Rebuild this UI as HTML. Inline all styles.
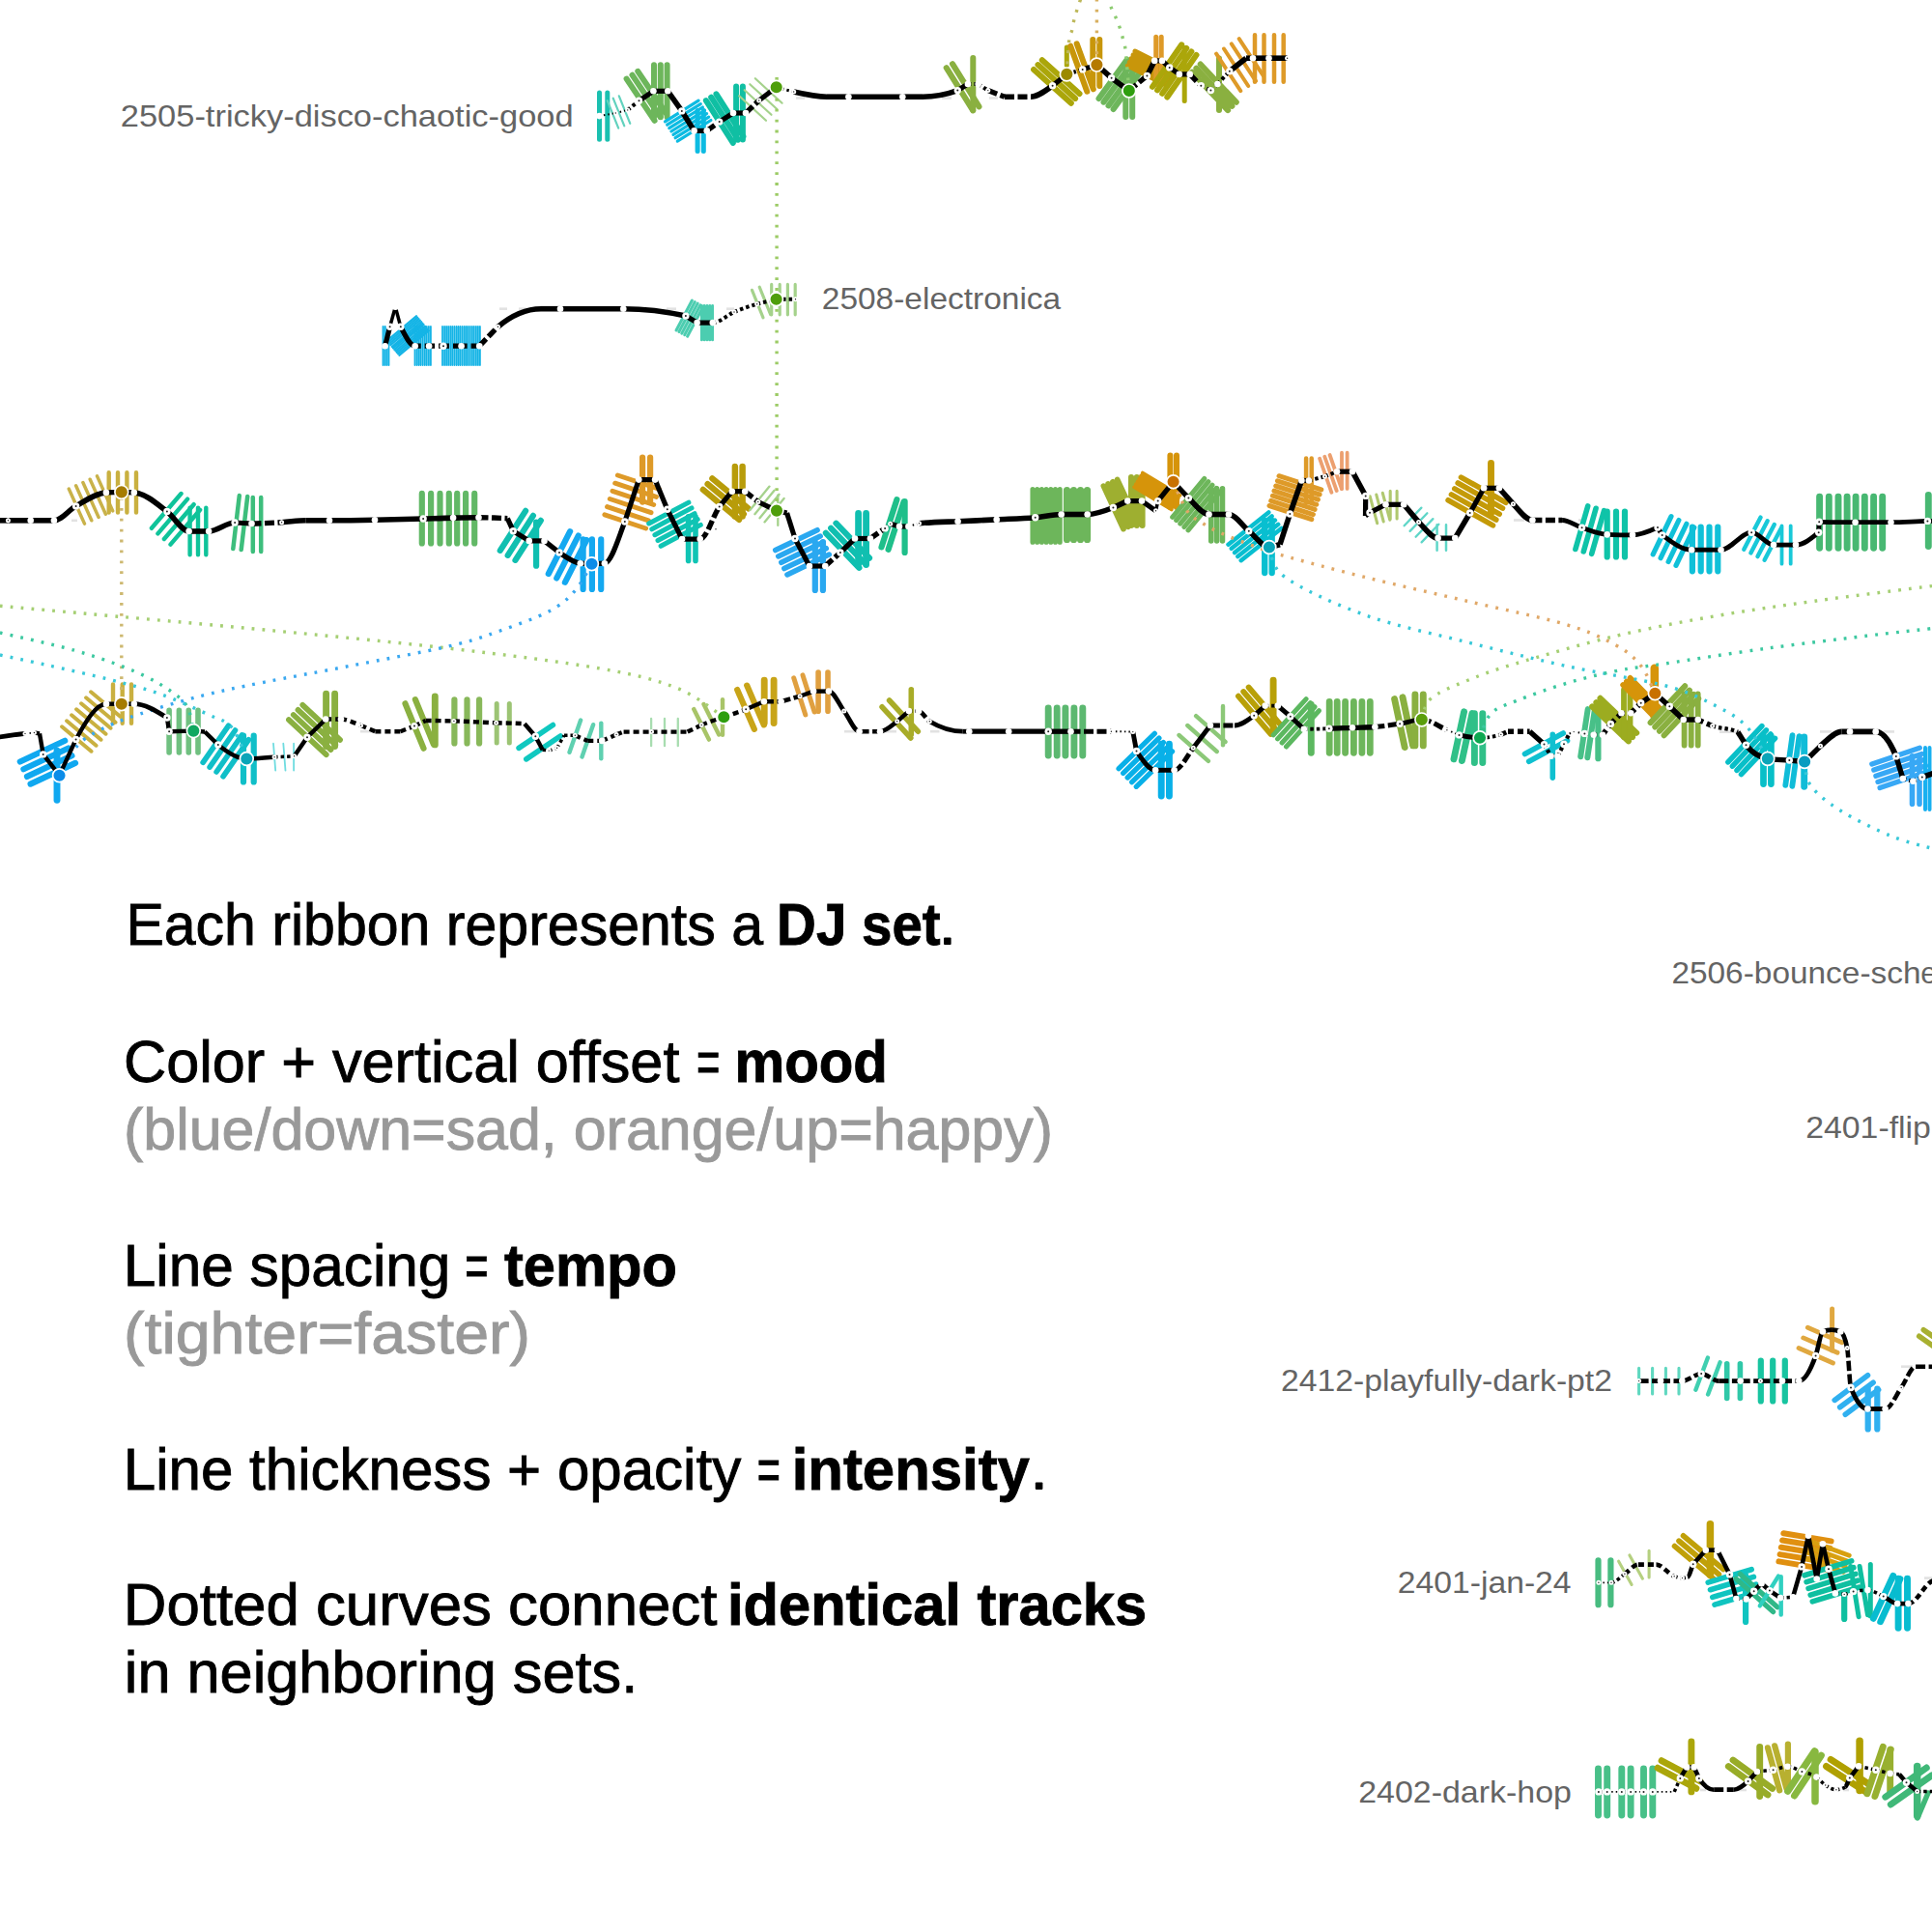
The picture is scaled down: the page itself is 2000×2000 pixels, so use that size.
<!DOCTYPE html><html><head><meta charset="utf-8"><title>DJ set ribbons</title><style>html,body{margin:0;padding:0;background:#fff;overflow:hidden}svg{display:block}text{font-family:"Liberation Sans",sans-serif}</style></head><body>
<svg width="2000" height="2000" viewBox="0 0 2000 2000">
<rect width="2000" height="2000" fill="#fff"/>
<rect x="824" y="100.2" width="9" height="2.6" fill="#e2e2e2"/>
<rect x="975" y="100.2" width="10" height="2.6" fill="#e2e2e2"/>
<rect x="1024" y="100.2" width="9" height="2.6" fill="#e2e2e2"/>
<g fill="none" stroke-linecap="round"><path d="M620.5 95.9L620.5 144.3M628.8 95.9L628.8 144.3" stroke="#1BC0B0" stroke-width="5"/><path d="M628.7 104.2L640.2 132.7M634.7 101.7L646.3 130.3M640.8 99.3L652.3 127.8" stroke="#62D2BE" stroke-width="2.2"/><path d="M648.6 81.6L677.6 124.8M654.5 77.7L683.4 120.9M660.3 73.8L689.3 117" stroke="#6DB65B" stroke-width="6"/><path d="M677 67.3L677 121.3M683.8 67.3L683.8 121.3M690.6 67.3L690.6 121.3" stroke="#6DB65B" stroke-width="6"/><path d="M723.1 104.2L688.5 125.8M725.3 107.6L690.7 129.2M727.4 111L692.8 132.6M729.5 114.3L694.9 136M731.6 117.7L697 139.3M733.7 121.1L699.1 142.7M735.9 124.5L701.3 146.1" stroke="#0CBBE2" stroke-width="3.2"/><path d="M722.1 114.4L722.1 156.4M728.3 114.4L728.3 156.4" stroke="#0CBBE2" stroke-width="5"/><path d="M730.9 104.1L758.8 147.9M736.2 100.7L764.1 144.6M741.5 97.3L769.4 141.2" stroke="#10BFA3" stroke-width="6"/><path d="M762.1 89.5L762.1 144.5M768.9 89.5L768.9 144.5" stroke="#10BFA3" stroke-width="6"/><path d="M765.2 99.3L793 124.8M770.7 93.2L798.5 118.8M776.3 87.2L804.1 112.8M781.8 81.2L809.6 106.7" stroke="#A5D28C" stroke-width="2.2"/><path d="M979.7 70.2L1007.2 114.4M986 66.2L1013.5 110.4" stroke="#8AB040" stroke-width="6"/><path d="M1007.3 60L1007.3 114" stroke="#8AB040" stroke-width="6"/><path d="M1070.1 71.9L1108.8 106.7M1074.5 67.1L1113.1 101.9M1078.8 62.3L1117.5 97.1" stroke="#ABA60A" stroke-width="6"/><path d="M1104.3 49.1L1104.3 67.5" stroke="#ABA60A" stroke-width="5"/><path d="M1108.2 47.7L1125.3 94.7M1114.7 45.3L1131.8 92.3" stroke="#C8960A" stroke-width="6"/><path d="M1131.3 41L1131.3 89M1138.3 41L1138.3 89" stroke="#C8960A" stroke-width="6"/><path d="M1166.8 61.6L1137.5 102.1M1171.9 65.2L1142.5 105.7M1176.9 68.9L1147.5 109.4M1181.9 72.5L1152.6 113" stroke="#6DB65B" stroke-width="6"/><path d="M1165.3 67L1165.3 121M1172.2 67L1172.2 121" stroke="#6DB65B" stroke-width="6"/><path d="M1167.4 68L1207.6 88.3M1169.3 64.3L1209.5 84.5M1171.2 60.5L1211.4 80.8M1173.1 56.8L1213.3 77M1175 53L1215.2 73.3" stroke="#C8960A" stroke-width="5"/><path d="M1196.7 38.2L1196.7 87.5M1202.2 38.2L1202.2 87.5" stroke="#DE9A28" stroke-width="5"/><path d="M1223.2 46.3L1193 89.9M1228.3 49.9L1198.1 93.4M1233.4 53.4L1203.2 96.9M1238.5 56.9L1208.3 100.5" stroke="#ABA60A" stroke-width="6"/><path d="M1226.2 49.4L1226.2 104.4" stroke="#ABA60A" stroke-width="5"/><path d="M1234 74.8L1271.1 114.1M1238.4 70.7L1275.4 109.9M1242.7 66.5L1279.8 105.8" stroke="#8AB040" stroke-width="6"/><path d="M1262 60.5L1262 114" stroke="#8AB040" stroke-width="6"/><path d="M1259.1 55.7L1284.3 94.2M1267 50.5L1292.2 89M1274.8 45.4L1300 83.9M1282.7 40.2L1307.9 78.7" stroke="#DE9A28" stroke-width="4"/><path d="M1299 36.2L1299 84.8M1308.5 36.2L1308.5 84.8M1319 36.2L1319 84.8M1328.7 36.2L1328.7 84.8" stroke="#DE9A28" stroke-width="4.5"/></g>
<rect x="517" y="318.4" width="8" height="2.6" fill="#e2e2e2"/>
<rect x="537" y="318.4" width="8" height="2.6" fill="#e2e2e2"/>
<rect x="690" y="318.4" width="10" height="2.6" fill="#e2e2e2"/>
<rect x="752" y="318.4" width="8" height="2.6" fill="#e2e2e2"/>
<g fill="none" stroke-linecap="round"><path d="M396.5 337.9L396.5 378.1M398.5 337.9L398.5 378.1M400.5 337.9L400.5 378.1M402.5 337.9L402.5 378.1" stroke="#14B4E6" stroke-width="1.8"/><path d="M431.1 327L400.4 352.7M432.4 328.5L401.7 354.3M433.7 330L403 355.8M435 331.5L404.3 357.3M436.3 333.1L405.6 358.9M437.6 334.6L406.8 360.4M438.8 336.1L408.1 361.9M440.1 337.7L409.4 363.5M441.4 339.2L410.7 365M442.7 340.7L412 366.5M444 342.3L413.3 368" stroke="#14B4E6" stroke-width="1.9"/><path d="M429.5 337.9L429.5 378.1M431.6 337.9L431.6 378.1M433.6 337.9L433.6 378.1M435.6 337.9L435.6 378.1M437.7 337.9L437.7 378.1M439.8 337.9L439.8 378.1M441.8 337.9L441.8 378.1M443.9 337.9L443.9 378.1M445.9 337.9L445.9 378.1" stroke="#14B4E6" stroke-width="1.8"/><path d="M458 337.9L458 378.1M460.1 337.9L460.1 378.1M462.1 337.9L462.1 378.1M464.1 337.9L464.1 378.1M466.2 337.9L466.2 378.1M468.2 337.9L468.2 378.1M470.3 337.9L470.3 378.1M472.4 337.9L472.4 378.1M474.4 337.9L474.4 378.1M476.4 337.9L476.4 378.1M478.5 337.9L478.5 378.1M480.6 337.9L480.6 378.1M482.6 337.9L482.6 378.1M484.6 337.9L484.6 378.1M486.7 337.9L486.7 378.1M488.8 337.9L488.8 378.1M490.8 337.9L490.8 378.1M492.9 337.9L492.9 378.1M494.9 337.9L494.9 378.1M496.9 337.9L496.9 378.1" stroke="#14B4E6" stroke-width="1.8"/><path d="M716.4 311L700 342M719.3 312.6L702.9 343.5M722.2 314.1L705.8 345.1M725.1 315.7L708.7 346.6M728 317.2L711.6 348.2" stroke="#4CCDB0" stroke-width="3"/><path d="M726.4 316.4L726.4 351.9M729.2 316.4L729.2 351.9M732 316.4L732 351.9M734.8 316.4L734.8 351.9M737.6 316.4L737.6 351.9" stroke="#4CCDB0" stroke-width="2.9"/><path d="M778.5 300.3L790 328.8M786.2 297.2L797.7 325.7" stroke="#A5D28C" stroke-width="3.2"/><path d="M798.7 294.4L798.7 325.8M807.2 294.4L807.2 325.8M815.4 294.4L815.4 325.8M823.2 294.4L823.2 325.8" stroke="#A5D28C" stroke-width="3.2"/></g>
<rect x="74" y="537.5" width="6" height="2.6" fill="#e2e2e2"/>
<rect x="1567" y="537.2" width="11" height="2.6" fill="#e2e2e2"/>
<rect x="1634" y="537.2" width="6" height="2.6" fill="#e2e2e2"/>
<g fill="none" stroke-linecap="round"><path d="M71.3 506.1L87.5 542.1M78.6 502.8L94.8 538.8M85.9 499.5L102.1 535.5M93.2 496.2L109.4 532.2M100.5 492.9L116.7 528.9" stroke="#C9B24A" stroke-width="3.5"/><path d="M112.7 489.2L112.7 530.5M122 489.2L122 530.5M131.4 489.2L131.4 530.5M141 489.2L141 530.5" stroke="#C9B040" stroke-width="4.4"/><path d="M187.5 511L156.9 546.8M194.1 516.6L163.4 552.4M200.6 522.2L169.9 558M207.1 527.8L176.5 563.6" stroke="#0FC39A" stroke-width="4.4"/><path d="M196.6 525.6L196.6 574.3M205 525.6L205 574.3M213.3 525.6L213.3 574.3" stroke="#0FC39A" stroke-width="4.4"/><path d="M247.8 513.1L241.3 568M256.2 514L249.7 569M261.8 515L261.8 570.9M270.2 515L270.2 570.9" stroke="#3DBE7C" stroke-width="4.5"/><path d="M436.8 510.9L436.8 562.4M446.1 510.9L446.1 562.4M455.5 510.9L455.5 562.4M464.8 510.9L464.8 562.4M473.2 510.9L473.2 562.4M482.1 510.9L482.1 562.4M491.2 510.9L491.2 562.4" stroke="#62B866" stroke-width="6.2"/><path d="M544.1 528.8L517.8 569.8M551.9 533.8L525.7 574.8M559.8 538.8L533.5 579.8" stroke="#10BFB0" stroke-width="6.2"/><path d="M555.1 540.7L555.1 585.7" stroke="#10BFB0" stroke-width="6.2"/><path d="M590.1 550.2L567.8 594M598.7 554.6L576.3 598.4M607.2 559L584.9 602.8" stroke="#14A8F0" stroke-width="6.2"/><path d="M603.6 558.4L603.6 609.9M612.9 558.4L612.9 609.9M622.2 558.4L622.2 609.9" stroke="#14A8F0" stroke-width="6.2"/><path d="M625.9 532.8L668.6 547M628.6 524.6L671.3 538.8M631.3 516.5L674 530.7M634 508.3L676.7 522.5M636.7 500.2L679.4 514.4M639.4 492L682.1 506.2" stroke="#DE9A28" stroke-width="5"/><path d="M665.1 473.6L665.1 519.6M673.1 473.6L673.1 519.6" stroke="#DE9A28" stroke-width="6.2"/><path d="M712.9 520.1L671.7 542M716 525.9L674.8 547.8M719.1 531.7L677.9 553.7M722.2 537.6L681 559.5M725.3 543.4L684.1 565.3" stroke="#10C4B4" stroke-width="5"/><path d="M712.6 534.8L712.6 580.4M720 534.8L720 580.4" stroke="#10C4B4" stroke-width="5.6"/><path d="M727.8 506.9L765.1 537.9M732.6 501.1L769.9 532.1M737.4 495.3L774.7 526.3" stroke="#B89C0A" stroke-width="6.3"/><path d="M760.9 483.1L760.9 534.4M768.6 483.1L768.6 534.4" stroke="#B89C0A" stroke-width="6.5"/><path d="M796.5 503.6L776.4 528.1M801.5 507.7L781.4 532.2M806.6 511.8L786.5 536.3M811.6 515.9L791.5 540.4" stroke="#A5D28C" stroke-width="2.3"/><path d="M805.3 512.6L805.3 543.9" stroke="#A5D28C" stroke-width="2.3"/><path d="M846.1 548.7L802.7 569.6M849.2 555L805.7 575.9M852.2 561.3L808.8 582.3M855.3 567.7L811.8 588.6M858.3 574L814.9 594.9" stroke="#2AA8F0" stroke-width="5.5"/><path d="M843.8 561.1L843.8 610.9M851.9 561.1L851.9 610.9" stroke="#2AA8F0" stroke-width="6.2"/><path d="M854.9 551.8L889.4 587.8M860.2 546.8L894.7 582.7M865.5 541.7L900 577.7" stroke="#10BFB0" stroke-width="6.2"/><path d="M888.6 531.4L888.6 584.6M896.6 531.4L896.6 584.6" stroke="#10BFB0" stroke-width="6.8"/><path d="M928.4 517.3L912.5 566.4M935.5 519.6L919.6 568.7" stroke="#1FBF8A" stroke-width="6.2"/><path d="M936.6 519.1L936.6 571.9" stroke="#1FBF8A" stroke-width="6.2"/><path d="M1069 506.6L1069 561.2M1073.7 506.6L1073.7 561.2M1078.4 506.6L1078.4 561.2M1083.1 506.6L1083.1 561.2M1087.8 506.6L1087.8 561.2M1092.5 506.6L1092.5 561.2M1097.2 506.6L1097.2 561.2" stroke="#6DB65B" stroke-width="5.1"/><path d="M1104.5 507.6L1104.5 558.4M1111.5 507.6L1111.5 558.4M1118.5 507.6L1118.5 558.4M1125.5 507.6L1125.5 558.4" stroke="#6DB65B" stroke-width="7.2"/><path d="M1142.3 503.1L1163 547.7M1147.1 500.9L1167.8 545.4M1151.9 498.7L1172.6 543.2M1156.7 496.4L1177.4 541" stroke="#9EAF30" stroke-width="5.6"/><path d="M1171 494L1171 544M1176.8 494L1176.8 544M1182.6 494L1182.6 544" stroke="#9EAF30" stroke-width="6"/><path d="M1174.1 504.2L1212.7 527.4M1175.9 501.3L1214.5 524.5M1177.6 498.4L1216.2 521.5M1179.4 495.5L1218 518.6M1181.1 492.5L1219.7 515.7M1182.9 489.6L1221.5 512.8" stroke="#D6940A" stroke-width="3.8"/><path d="M1211.4 471.6L1211.4 525M1218 471.6L1218 525" stroke="#D6940A" stroke-width="6"/><path d="M1246.8 495.4L1213.7 535.3M1250.9 498.7L1217.7 538.7M1255 502.1L1221.8 542.1M1259.1 505.5L1225.9 545.5M1263.1 508.9L1230 548.8" stroke="#6DB65B" stroke-width="5"/><path d="M1253.7 505.8L1253.7 560M1259.6 505.8L1259.6 560M1265.5 505.8L1265.5 560" stroke="#6DB65B" stroke-width="5.5"/><path d="M1313.3 530.4L1271.5 563.7M1316.6 534.5L1274.8 567.8M1319.9 538.6L1278.1 572M1323.2 542.8L1281.4 576.1M1326.5 546.9L1284.7 580.2" stroke="#08BFD0" stroke-width="4.5"/><path d="M1309.2 538.9L1309.2 593.1M1316.7 538.9L1316.7 593.1" stroke="#08BFD0" stroke-width="6.3"/><path d="M1314 523.5L1357.8 537.7M1315.7 518.4L1359.4 532.6M1317.4 513.2L1361.1 527.4M1319 508.1L1362.8 522.3M1320.7 503L1364.4 517.2M1322.4 497.8L1366.1 512M1324 492.7L1367.8 506.9" stroke="#DE9A28" stroke-width="5"/><path d="M1352.1 474.6L1352.1 520.5M1357.7 474.6L1357.7 520.5" stroke="#DE9A28" stroke-width="4.5"/><path d="M1366.1 474.7L1378.4 509.8M1371.3 472.8L1383.7 508M1376.6 471L1388.9 506.1" stroke="#ECA070" stroke-width="3.8"/><path d="M1389 468.7L1389 505.9M1394.6 468.7L1394.6 505.9" stroke="#ECA070" stroke-width="3.8"/><path d="M1418.2 513.8L1425.7 541.7M1424.8 512.1L1432.2 539.9M1431.3 510.3L1438.8 538.2" stroke="#B0C870" stroke-width="3.1"/><path d="M1439.2 508.4L1439.2 536.9M1446.1 508.4L1446.1 536.9" stroke="#B0C870" stroke-width="3.1"/><path d="M1471.4 525.6L1453.6 544.2M1477.4 531.3L1459.6 549.9M1483.4 537.1L1465.6 555.7M1489.4 542.8L1471.6 561.4" stroke="#5FD6C8" stroke-width="2.3"/><path d="M1487.6 543.3L1487.6 569.7M1497 543.3L1497 569.7" stroke="#5FD6C8" stroke-width="2.5"/><path d="M1499.1 517.8L1545.5 543.9M1502.5 511.9L1548.8 538M1505.8 505.9L1552.2 532.1M1509.2 500L1555.5 526.1M1512.5 494.1L1558.9 520.2" stroke="#C49A08" stroke-width="5.6"/><path d="M1543.5 479.4L1543.5 531.4" stroke="#C49A08" stroke-width="6.9"/><path d="M1643.7 523.9L1630.9 568.5M1652.1 526.3L1639.3 570.9M1660.5 528.7L1647.7 573.3" stroke="#0FC3A8" stroke-width="5.6"/><path d="M1663.7 529.5L1663.7 576.4M1673 529.5L1673 576.4M1682 529.5L1682 576.4" stroke="#0FC3A8" stroke-width="6.2"/><path d="M1730 534.7L1711.2 573.9M1737.9 538.5L1719.1 577.7M1745.9 542.3L1727.1 581.5M1753.8 546.1L1735 585.3" stroke="#10C0D8" stroke-width="5.2"/><path d="M1751.9 545.5L1751.9 591.3M1760.7 545.5L1760.7 591.3M1769.5 545.5L1769.5 591.3M1778.3 545.5L1778.3 591.3" stroke="#10C0D8" stroke-width="6.2"/><path d="M1822.6 535.6L1805.3 568.7M1829.7 539.3L1812.4 572.4M1836.8 543L1819.5 576.1M1843.9 546.7L1826.6 579.8" stroke="#18C8D8" stroke-width="4.4"/><path d="M1844.5 544.3L1844.5 583.7M1853.7 544.3L1853.7 583.7" stroke="#18C8D8" stroke-width="3.8"/><path d="M1883.6 514.1L1883.6 567.2M1893.3 514.1L1893.3 567.2M1903 514.1L1903 567.2M1912.1 514.1L1912.1 567.2M1921.1 514.1L1921.1 567.2M1930.3 514.1L1930.3 567.2M1939.6 514.1L1939.6 567.2M1948.7 514.1L1948.7 567.2" stroke="#48B872" stroke-width="6.9"/><path d="M1996.3 512.4L1996.3 565.6M2005.5 512.4L2005.5 565.6" stroke="#48B872" stroke-width="6.9"/></g>
<rect x="373" y="755.9" width="14" height="2.6" fill="#e2e2e2"/>
<rect x="874" y="755.9" width="11" height="2.6" fill="#e2e2e2"/>
<rect x="913" y="755.9" width="15" height="2.6" fill="#e2e2e2"/>
<rect x="963" y="755.9" width="9.5" height="2.6" fill="#e2e2e2"/>
<rect x="1780" y="756.4" width="18" height="2.6" fill="#e2e2e2"/>
<rect x="1884" y="756.1" width="12" height="2.6" fill="#e2e2e2"/>
<rect x="1950" y="756.1" width="11" height="2.6" fill="#e2e2e2"/>
<g fill="none" stroke-linecap="round"><path d="M67.2 766.8L20.8 788.5M70.8 774.5L24.4 796.2M74.4 782.2L28 803.9M78 789.9L31.6 811.6" stroke="#10A8F0" stroke-width="6.2"/><path d="M59 777.1L59 828.3" stroke="#10A8F0" stroke-width="6.9"/><path d="M64.1 752.3L94.5 777.7M69.1 746.3L99.5 771.7M74.1 740.3L104.5 765.7M79.1 734.3L109.5 759.7M84.1 728.3L114.5 753.7M89.1 722.3L119.5 747.7M94.1 716.3L124.5 741.7" stroke="#C9B040" stroke-width="4"/><path d="M117 708.5L117 748.8M126.7 708.5L126.7 748.8M136 708.5L136 748.8" stroke="#C9B040" stroke-width="4.4"/><path d="M175.1 735.2L175.1 779M185.4 735.2L185.4 779M195.3 735.2L195.3 779M205 735.2L205 779" stroke="#70C080" stroke-width="5.6"/><path d="M236.6 751.2L210.1 789.3M243.5 756L217.1 794.1M250.5 760.9L224.1 799M257.5 765.7L231 803.8" stroke="#10BFC8" stroke-width="5.6"/><path d="M252 761.6L252 809.4M262.7 761.6L262.7 809.4" stroke="#10BFC8" stroke-width="6.2"/><path d="M283 769.7L285.2 797.6M293.3 769.7L295.5 797.6M304.1 769.7L304.1 797.6" stroke="#6FDCE0" stroke-width="1.8"/><path d="M299 745.1L337.7 781.2M303.8 740L342.5 776.1M308.5 734.9L347.2 771M313.3 729.8L352 765.9" stroke="#8AB040" stroke-width="5.8"/><path d="M337.6 718.1L337.6 772.6M346.6 718.1L346.6 772.6" stroke="#8AB040" stroke-width="6.9"/><path d="M419.5 728.3L438.5 774.7M429.9 724.1L448.9 770.5" stroke="#8AB040" stroke-width="6.2"/><path d="M450.3 720.9L450.3 770.9" stroke="#8AB040" stroke-width="6.9"/><path d="M470.4 724.3L470.4 769.4M483.5 724.3L483.5 769.4M496.1 724.3L496.1 769.4" stroke="#88B85A" stroke-width="6.2"/><path d="M514.2 728.4L514.2 769M527.3 728.4L527.3 769" stroke="#9CC474" stroke-width="5"/><path d="M572.4 750.5L537.1 774.4M580.1 762L544.8 785.9" stroke="#10C8C0" stroke-width="5.6"/><path d="M601.1 745.6L589.5 778.8M614.1 750.2L602.5 783.4" stroke="#5FD0B0" stroke-width="4.4"/><path d="M622.3 748.6L622.3 785.2" stroke="#5FD0B0" stroke-width="4.4"/><path d="M674.1 743.9L674.1 772.2M688 743.9L688 772.2M701.8 743.9L701.8 772.2" stroke="#A8DDB0" stroke-width="2.3"/><path d="M718.2 734.1L733.9 765.6M728.5 729L744.2 760.5" stroke="#A8C468" stroke-width="4.4"/><path d="M748 724.2L748 760.8" stroke="#A8C468" stroke-width="4.4"/><path d="M763.2 714L780.8 754.8M773.2 709.6L790.8 750.4" stroke="#C8A418" stroke-width="6.2"/><path d="M791.2 704.1L791.2 748.6M801.1 704.1L801.1 748.6" stroke="#C8A418" stroke-width="6.9"/><path d="M821.7 701.8L833.8 739.9M831 698.9L843.1 737" stroke="#E0A040" stroke-width="5"/><path d="M847.1 696.1L847.1 736.2M857 696.1L857 736.2" stroke="#E0A040" stroke-width="5.6"/><path d="M913.1 731.8L942.8 764M920.6 725L950.3 757.2" stroke="#A8AC28" stroke-width="5.6"/><path d="M943.3 713.8L943.3 760.2" stroke="#A8AC28" stroke-width="5.6"/><path d="M1085.2 733L1085.2 782.1M1094.2 733L1094.2 782.1M1102.9 733L1102.9 782.1M1111.9 733L1111.9 782.1M1120.8 733L1120.8 782.1" stroke="#5CB870" stroke-width="6.9"/><path d="M1195.3 759.3L1158.1 795.7M1199.9 764L1162.7 800.3M1204.4 768.6L1167.2 805M1208.9 773.3L1171.7 809.6M1213.5 777.9L1176.3 814.3" stroke="#08B0E8" stroke-width="5.3"/><path d="M1202.2 770.3L1202.2 824M1210.4 770.3L1210.4 824" stroke="#08B0E8" stroke-width="6.9"/><path d="M1220.5 761L1250.9 787.9M1229.3 751L1259.7 778M1238.1 741.1L1268.5 768" stroke="#8CC878" stroke-width="4.4"/><path d="M1266 730.9L1266 771.2" stroke="#8CC878" stroke-width="4.4"/><path d="M1281.9 720.6L1315.4 759.9M1287.2 716L1320.8 755.4M1292.6 711.5L1326.1 750.8" stroke="#B8A008" stroke-width="5.8"/><path d="M1318.1 704.1L1318.1 756" stroke="#B8A008" stroke-width="6.9"/><path d="M1352.1 723.6L1318.2 760.9M1356.5 727.6L1322.6 764.9M1361 731.7L1327.1 769M1365.4 735.7L1331.5 773" stroke="#5CB860" stroke-width="5"/><path d="M1357.3 729.4L1357.3 779.3" stroke="#5CB860" stroke-width="6.9"/><path d="M1376.2 726.4L1376.2 779.3M1384.2 726.4L1384.2 779.3M1392.6 726.4L1392.6 779.3M1401.4 726.4L1401.4 779.3M1409.9 726.4L1409.9 779.3M1418.3 726.4L1418.3 779.3" stroke="#6DB65B" stroke-width="6.8"/><path d="M1443.6 723.6L1454.2 773.6M1452 721.8L1462.6 771.8" stroke="#8AB040" stroke-width="6.9"/><path d="M1464.9 719L1464.9 771.9M1473.3 719L1473.3 771.9" stroke="#8AB040" stroke-width="6.9"/><path d="M1515.6 736.8L1505 785.8M1524 738.6L1513.4 787.6" stroke="#30C088" stroke-width="6.9"/><path d="M1526.4 738.6L1526.4 789.6M1534.8 738.6L1534.8 789.6" stroke="#30C088" stroke-width="6.9"/><path d="M1618.3 759L1578.5 780.5M1622.5 766.7L1582.7 788.2" stroke="#10C0D0" stroke-width="5.6"/><path d="M1607.3 760.4L1607.3 805.1" stroke="#10C0D0" stroke-width="5.6"/><path d="M1643.7 734.1L1636.2 783.2M1650.8 735.2L1643.3 784.3" stroke="#48C088" stroke-width="6"/><path d="M1654.4 740.1L1654.4 785.2" stroke="#48C088" stroke-width="6.2"/><path d="M1648.3 731.5L1685.8 767.3M1652.5 727.2L1689.9 763M1656.6 722.9L1694.1 758.7" stroke="#9CAC20" stroke-width="6.2"/><path d="M1681 713.9L1681 763.1M1687.5 713.9L1687.5 763.1" stroke="#9CAC20" stroke-width="5.8"/><path d="M1680.1 709L1712.5 742.2M1683.8 705.4L1716.2 738.6M1687.5 701.8L1719.9 735" stroke="#D6940A" stroke-width="5.6"/><path d="M1712.8 691.8L1712.8 741.8" stroke="#D6940A" stroke-width="8.5"/><path d="M1744.2 710.2L1708.6 748.1M1748.9 714.6L1713.3 752.5M1753.5 718.9L1717.9 756.8M1758.2 723.3L1722.6 761.2" stroke="#8AB040" stroke-width="6"/><path d="M1743.6 718.4L1743.6 771.5M1750.7 718.4L1750.7 771.5M1757.7 718.4L1757.7 771.5" stroke="#8AB040" stroke-width="5.8"/><path d="M1823.9 751.6L1788.9 788.9M1828.4 755.8L1793.4 793.2M1833 760L1798 797.4M1837.5 764.3L1802.5 801.6" stroke="#08BFC8" stroke-width="5.5"/><path d="M1825.5 762L1825.5 811.6M1833.4 762L1833.4 811.6" stroke="#08BFC8" stroke-width="6.7"/><path d="M1855.5 761.2L1848.3 812.9M1862.5 762.1L1855.3 813.8" stroke="#10BCD8" stroke-width="5.8"/><path d="M1867.7 762.9L1867.7 814.2" stroke="#10BCD8" stroke-width="6.9"/><path d="M1987.3 774.2L1937.8 791M1989.4 780.4L1939.8 797.1M1991.5 786.5L1941.9 803.3M1993.6 792.7L1944 809.4M1995.6 798.8L1946.1 815.6" stroke="#38A8F5" stroke-width="5.3"/><path d="M1979.5 782.8L1979.5 832.2M1987 782.8L1987 832.2" stroke="#38A8F5" stroke-width="5.6"/><path d="M1993 774L1993 838M1997.5 774L1997.5 838M2002 774L2002 838" stroke="#18B0F0" stroke-width="4"/></g>
<rect x="1968" y="1413.4" width="12" height="2.6" fill="#e2e2e2"/>
<g fill="none" stroke-linecap="round"><path d="M1696.6 1416.3L1696.6 1442.9M1710.6 1416.3L1710.6 1442.9M1724.4 1416.3L1724.4 1442.9M1738 1416.3L1738 1442.9" stroke="#60D8C0" stroke-width="3.1"/><path d="M1767.9 1405.5L1755.4 1438.7M1780.6 1410.3L1768.1 1443.5" stroke="#40CFB0" stroke-width="4.4"/><path d="M1787.7 1411.7L1787.7 1447.5M1801.4 1411.7L1801.4 1447.5" stroke="#30C8A8" stroke-width="5.6"/><path d="M1822.8 1408.6L1822.8 1450.5M1835.2 1408.6L1835.2 1450.5M1847.8 1408.6L1847.8 1450.5" stroke="#18C4A0" stroke-width="6.2"/><path d="M1862 1395.5L1897.5 1411M1866.7 1384.9L1902.1 1400.3M1871.3 1374.2L1906.8 1389.7" stroke="#E0A840" stroke-width="4.8"/><path d="M1896.6 1355.1L1896.6 1398.1" stroke="#E0A840" stroke-width="5"/><path d="M1933.5 1423.7L1899.2 1449.4M1939.1 1431.2L1904.7 1456.8M1944.6 1438.6L1910.3 1464.3" stroke="#30B0F0" stroke-width="5.6"/><path d="M1933.7 1437.6L1933.7 1479.5M1943.3 1437.6L1943.3 1479.5" stroke="#30B0F0" stroke-width="6.2"/><path d="M1986.7 1383.3L2006.7 1397.3M1991.3 1376.7L2011.3 1390.7" stroke="#A8B030" stroke-width="5.6"/></g>
<rect x="1992" y="1632.3" width="10" height="2.6" fill="#e2e2e2"/>
<g fill="none" stroke-linecap="round"><path d="M1654.5 1615.3L1654.5 1661.2M1667.4 1615.3L1667.4 1661.2" stroke="#48BC80" stroke-width="6.2"/><path d="M1675.6 1616.2L1689.1 1640.5M1686.9 1609.9L1700.4 1634.2" stroke="#B5D080" stroke-width="3.1"/><path d="M1707.1 1605.4L1707.1 1632.9" stroke="#B5D080" stroke-width="3.1"/><path d="M1733.6 1600.6L1774.8 1635.1M1738.1 1595.2L1779.3 1629.8M1742.6 1589.9L1783.8 1624.4" stroke="#C0A008" stroke-width="5.8"/><path d="M1770.4 1577.8L1770.4 1630.2" stroke="#C0A008" stroke-width="7.5"/><path d="M1813.2 1624.7L1768.2 1638.1M1815.4 1632.4L1770.5 1645.7M1817.7 1640.1L1772.8 1653.4M1820 1647.7L1775 1661.1" stroke="#10C4C0" stroke-width="5.6"/><path d="M1807.1 1631.1L1807.1 1678.9" stroke="#10C4C0" stroke-width="6.2"/><path d="M1797 1634.2L1835.6 1668.6M1801.4 1629.4L1840 1663.8" stroke="#30B888" stroke-width="5.3"/><path d="M1841 1631.6L1821.8 1662.4" stroke="#30D0C0" stroke-width="4.4"/><path d="M1843.7 1632.1L1843.7 1671.5" stroke="#30D0C0" stroke-width="4.4"/><path d="M1841.4 1616.4L1890.7 1624.6M1842.6 1609.1L1891.9 1617.3M1843.8 1601.8L1893.2 1610M1845.1 1594.5L1894.4 1602.7M1846.3 1587.2L1895.6 1595.4" stroke="#E09010" stroke-width="6"/><path d="M1865.7 1611.7L1908.2 1627.2M1867.7 1606.1L1910.2 1621.5M1869.8 1600.5L1912.3 1615.9M1871.8 1594.8L1914.3 1610.3" stroke="#D8A010" stroke-width="4.8"/><path d="M1916.7 1615.9L1868 1630.8M1918.8 1622.7L1870.1 1637.6M1920.9 1629.4L1872.1 1644.4M1922.9 1636.2L1874.2 1651.1M1925 1643L1876.3 1657.9" stroke="#0FBFA0" stroke-width="5.6"/><path d="M1909.2 1652.1L1909.2 1675.9" stroke="#0FBFA0" stroke-width="6.2"/><path d="M1915.8 1621.5L1924.1 1673.7M1925.1 1621.5L1933.5 1671.8M1936.3 1619.6L1936.3 1673" stroke="#0FBFA0" stroke-width="5"/><path d="M1959.8 1631.2L1939.4 1675.4M1967 1634.6L1946.6 1678.8" stroke="#08BCD0" stroke-width="6.7"/><path d="M1965.1 1634.2L1965.1 1685.2M1974.5 1634.2L1974.5 1685.2" stroke="#08BCD0" stroke-width="6.9"/></g>
<rect x="1760" y="1851.7" width="6" height="2.6" fill="#e2e2e2"/>
<rect x="1800" y="1851.7" width="8" height="2.6" fill="#e2e2e2"/>
<rect x="1908" y="1851.7" width="6" height="2.6" fill="#e2e2e2"/>
<g fill="none" stroke-linecap="round"><path d="M1654.5 1830.9L1654.5 1879.1M1663.7 1830.9L1663.7 1879.1M1678.8 1830.9L1678.8 1879.1M1688.1 1830.9L1688.1 1879.1M1701.5 1830.9L1701.5 1879.1M1710.8 1830.9L1710.8 1879.1" stroke="#48C088" stroke-width="6.9"/><path d="M1716.1 1830.2L1755.9 1851.3M1720.1 1822.7L1759.9 1843.8" stroke="#ABA60A" stroke-width="6.9"/><path d="M1750.9 1803L1750.9 1854.9" stroke="#ABA60A" stroke-width="6.9"/><path d="M1789.3 1828.6L1830 1857.9M1794 1822.1L1834.7 1851.4" stroke="#98AC28" stroke-width="6.8"/><path d="M1821.7 1808.4L1821.7 1859.6" stroke="#98AC28" stroke-width="6.9"/><path d="M1830 1809.3L1842.2 1853.3M1837.2 1807.3L1849.4 1851.3" stroke="#B8B030" stroke-width="6.2"/><path d="M1850.9 1805.5L1850.9 1851.4" stroke="#B8B030" stroke-width="6.2"/><path d="M1878.4 1812.7L1850.7 1854.3M1885.3 1817.3L1857.6 1858.9" stroke="#88B840" stroke-width="7.1"/><path d="M1879 1813.8L1879 1864.8" stroke="#88B840" stroke-width="7.5"/><path d="M1890.5 1828.5L1930.9 1854.7M1895.1 1821.3L1935.5 1847.5" stroke="#B0A000" stroke-width="6.9"/><path d="M1925.1 1802.3L1925.1 1853.5" stroke="#B0A000" stroke-width="7.5"/><path d="M1949.3 1808.3L1932.9 1856.8M1957.3 1811L1940.9 1859.5" stroke="#98B030" stroke-width="6.9"/><path d="M1956.7 1811.4L1956.7 1854.9" stroke="#98B030" stroke-width="6.9"/><path d="M1994.3 1830L1951.8 1860.2M1999.8 1837.8L1957.3 1868" stroke="#40B878" stroke-width="6.9"/><path d="M1984.7 1828.5L1984.7 1879.7" stroke="#40B878" stroke-width="7.5"/><path d="M1985 1882L1996 1856" stroke="#40B878" stroke-width="5.5"/></g>
<g fill="none" stroke-width="3.4" stroke-dasharray="2.8 8.1">
<path d="M804.1 80.1V528" stroke="#9CCB65"/>
<path d="M125.8 515V722" stroke="#CDB870"/>
<path d="M0 627.3C43.1 631.2 181.2 643.3 258.8 650.6C336.4 657.9 405.4 664.4 465.8 671.3C526.2 678.2 582 685.2 621 692C660 698.8 678.6 703.6 700 712C721.4 720.4 741.1 737.2 749.3 742.3" stroke="#A5CF73"/>
<path d="M0 655C10.8 657.5 47 665.3 65 670C83 674.7 94.2 678.2 108 683C121.8 687.8 136.5 693.5 148 698.9C159.5 704.3 169.4 710.2 177 715.6C184.6 721 189.9 724.7 193.8 731.5C197.7 738.3 199.2 752.4 200.3 756.6" stroke="#3CC8A0"/>
<path d="M0 678C8.2 679.8 30.4 684.4 49.4 688.6C68.3 692.9 94.1 698.5 113.7 703.5C133.3 708.5 149.8 712.7 166.8 718.8C183.9 724.9 203.8 734.2 216 739.9C228.2 745.6 233.4 745.4 240 753C246.6 760.6 252.8 780.1 255.3 785.5" stroke="#38C8D8"/>
<path d="M612.5 583.8C609.6 588.5 602.2 603.7 595 611.8C587.8 619.9 581.9 625.6 569 632.5C556.1 639.4 534.8 647 517.6 653C500.4 659 491.7 662.6 465.8 668.7C439.9 674.8 394.1 683.1 362 689.4C329.9 695.7 298.6 701.1 273 706.3C247.4 711.4 230 714.9 208.7 720.3C187.4 725.7 162.5 733.1 145.3 738.9C128.1 744.6 116.2 749.3 105.3 754.8C94.4 760.3 87.3 764 80 772C72.7 780 64.6 797.6 61.5 802.7" stroke="#3AA8F0"/>
<path d="M1214.6 498.8C1217 503.9 1223.9 522 1229.1 529.2C1234.3 536.4 1239.8 538.3 1245.9 542.2C1252 546.1 1257.1 548.8 1265.5 552.5C1273.9 556.2 1286 560.9 1296.2 564.6C1306.5 568.3 1307.4 569.3 1327 574.8C1346.6 580.3 1382.2 589.8 1414 597.7C1445.8 605.6 1483.1 613.9 1517.6 622C1552.1 630.1 1595.1 638.8 1621 646.5C1646.9 654.2 1659.9 660.9 1672.9 668C1685.9 675.1 1692.1 681.1 1698.8 689.4C1705.5 697.7 1710.6 712.9 1713 717.6" stroke="#E0A868"/>
<path d="M1313.9 566.5C1316.8 571.8 1314.3 586.2 1331 598C1347.7 609.8 1382.9 625.9 1414 637C1445.1 648.1 1483.1 655.8 1517.6 664.5C1552.1 673.2 1586.5 681.8 1621 689.4C1655.5 697 1698.7 703.1 1724.6 710C1750.5 716.9 1762.6 723.9 1776.4 730.8C1790.2 737.7 1798.6 742.4 1807.5 751.5C1816.4 760.6 1826.2 779.8 1829.9 785.4" stroke="#38C8D8"/>
<path d="M1471.8 744.9C1473.4 741.2 1473.8 729.6 1481.4 723C1489 716.4 1502.9 711 1517.6 705C1532.3 699 1543.5 694.6 1569.4 686.8C1595.3 679 1638.4 666.5 1672.9 658.3C1707.4 650.1 1741.9 643.6 1776.4 637.6C1810.9 631.6 1842.7 627.2 1880 622C1917.3 616.8 1980 609.2 2000 606.6" stroke="#A5CF73"/>
<path d="M1532 763.7C1533.9 759.5 1537.3 745 1543.5 738.6C1549.7 732.2 1556.5 730.8 1569.4 725.6C1582.3 720.4 1603.8 712.7 1621 707.5C1638.2 702.3 1655.6 698.1 1672.9 694.6C1690.2 691.1 1698.7 690.7 1724.6 686.8C1750.5 682.9 1793.7 676 1828.2 671.3C1862.7 666.5 1903.1 661.8 1931.7 658.3C1960.3 654.8 1988.6 651.9 2000 650.6" stroke="#3CC8A0"/>
<path d="M1868.1 788.5C1869.2 792.7 1868.4 805.1 1874.7 813.6C1881 822.1 1892 830.9 1905.8 839.5C1919.6 848.1 1941.9 858.9 1957.6 865.4C1973.3 871.9 1992.9 876.1 2000 878.3" stroke="#38C8D8"/>
<path d="M1104.3 76.9C1104.7 71.1 1105.8 49.6 1106.7 42C1107.6 34.4 1108.9 34.7 1109.8 31C1110.7 27.3 1111.1 23.6 1112 20C1112.9 16.4 1114 13 1115.2 9.3C1116.4 5.6 1118.4 -0.1 1119 -2" stroke="#BDB85A"/>
<path d="M1135.4 67V0" stroke="#D8B060"/>
<path d="M1168.8 93.9C1168.2 86.7 1165.9 59.4 1164.9 50.5C1163.9 41.6 1163.5 44.2 1162.6 40.7C1161.7 37.2 1160.7 33 1159.5 29.5C1158.3 25.9 1157 22.8 1155.6 19.4C1154.2 16 1152.5 12.9 1150.9 9.3C1149.4 5.7 1147.1 -0.1 1146.3 -2" stroke="#8CCB70"/>
</g>
<g fill="none" stroke="#000"><path d="M620.5 120.1L637.3 117" stroke-width="2" stroke-dasharray="1.5 3"/><path d="M637.3 117L649.7 113.9" stroke-width="2" stroke-dasharray="1.5 3"/><path d="M649.7 113.9L661.5 104.3" stroke-width="4" stroke-dasharray="3.5 3"/><path d="M661.5 104.3L676.4 94.3" stroke-width="5.2"/><path d="M676.4 94.3L691.3 94.3" stroke-width="5.2"/><path d="M691.3 94.3L705.8 114.9" stroke-width="5.6"/><path d="M705.8 114.9L718.6 135.4" stroke-width="5.6"/><path d="M718.6 135.4L731.7 135.4" stroke-width="5.2"/><path d="M731.7 135.4L744.7 126.1" stroke-width="5.4" stroke-dasharray="10 3.5"/><path d="M744.7 126.1L759 117" stroke-width="5.2"/><path d="M759 117L772 117" stroke-width="5.2"/><path d="M772 117L785.7 104" stroke-width="5.4" stroke-dasharray="10 3.5"/><path d="M785.7 104L803.7 90.3" stroke-width="5.2"/><path d="M803.7 90.3L821.7 95" stroke-width="3" stroke-dasharray="2.5 3"/><path d="M821.7 95C833.1 97.6 844.6 100.2 856 100.2" stroke-width="5.6"/><path d="M856 100.2C863.5 100.2 870.9 100.2 878.4 100.2" stroke-width="5.6"/><path d="M878.4 100.2C897 100.2 915.7 100.2 934.3 100.2" stroke-width="5.6"/><path d="M934.3 100.2C941.2 100.2 948.1 100.2 955 100.2" stroke-width="5.6"/><path d="M955 100.2C967.1 100.2 979.2 98 991.3 93.6" stroke-width="5.6"/><path d="M991.3 93.6L1001.9 87" stroke-width="5.2"/><path d="M1001.9 87L1012.7 87" stroke-width="4" stroke-dasharray="3.5 3"/><path d="M1012.7 87L1022.8 93.6" stroke-width="4" stroke-dasharray="3.5 3"/><path d="M1022.8 93.6L1040 100.2" stroke-width="5.4" stroke-dasharray="10 3.5"/><path d="M1040 100.2C1049 100.2 1058 100.2 1067 100.2" stroke-width="5.4" stroke-dasharray="10 3.5"/><path d="M1067 100.2C1074.5 100.2 1082.1 94 1089.6 88.8" stroke-width="5.6"/><path d="M1089.6 88.8L1104.3 76.9" stroke-width="5.2"/><path d="M1104.3 76.9L1120.7 71.9" stroke-width="4" stroke-dasharray="3.5 3"/><path d="M1120.7 71.9L1135.4 67.1" stroke-width="5.2"/><path d="M1135.4 67.1L1150.6 80.7" stroke-width="5.6"/><path d="M1150.6 80.7L1168.8 93.9" stroke-width="5.6"/><path d="M1168.8 93.9L1187.4 78.4" stroke-width="5.4" stroke-dasharray="10 3.5"/><path d="M1187.4 78.4L1195.2 62.9" stroke-width="5.6"/><path d="M1195.2 62.9L1203 62.9" stroke-width="5.2"/><path d="M1203 62.9L1210.7 69.9" stroke-width="5.2"/><path d="M1210.7 69.9L1220.8 76.9" stroke-width="5.2"/><path d="M1220.8 76.9L1231.7 76.9" stroke-width="5.2"/><path d="M1231.7 76.9L1243.3 88.8" stroke-width="5.4" stroke-dasharray="10 3.5"/><path d="M1243.3 88.8L1253.4 93.6" stroke-width="4" stroke-dasharray="3.5 3"/><path d="M1253.4 93.6L1260.4 87" stroke-width="4" stroke-dasharray="3.5 3"/><path d="M1260.4 87L1272.8 73.8" stroke-width="4" stroke-dasharray="3.5 3"/><path d="M1272.8 73.8L1290 60.2" stroke-width="5.6"/><path d="M1290 60.2L1297 60.2" stroke-width="5.6"/><path d="M1297 60.2L1313.5 60.2" stroke-width="5.6"/><path d="M1313.5 60.2L1332.6 60.2" stroke-width="5.6"/></g>
<g><circle cx="620.5" cy="120.1" r="3.3" fill="#fff"/><circle cx="637.3" cy="117" r="2.5" fill="#fff"/><circle cx="637.3" cy="117" r="0.7" fill="#222"/><circle cx="649.7" cy="113.9" r="2.5" fill="#fff"/><circle cx="649.7" cy="113.9" r="0.7" fill="#222"/><circle cx="661.5" cy="104.3" r="3.7" fill="#fff"/><circle cx="661.5" cy="104.3" r="1" fill="#222"/><circle cx="676.4" cy="94.3" r="3.3" fill="#fff"/><circle cx="691.3" cy="94.3" r="3.3" fill="#fff"/><circle cx="705.8" cy="114.9" r="3.7" fill="#fff"/><circle cx="705.8" cy="114.9" r="1" fill="#222"/><circle cx="718.6" cy="135.4" r="3.3" fill="#fff"/><circle cx="731.7" cy="135.4" r="3.3" fill="#fff"/><circle cx="744.7" cy="126.1" r="3.7" fill="#fff"/><circle cx="744.7" cy="126.1" r="1" fill="#222"/><circle cx="759" cy="117" r="3.3" fill="#fff"/><circle cx="772" cy="117" r="3.3" fill="#fff"/><circle cx="785.7" cy="104" r="2.5" fill="#fff"/><circle cx="785.7" cy="104" r="0.7" fill="#222"/><circle cx="803.7" cy="90.3" r="6.9" fill="#4E9E0A" stroke="#fff" stroke-width="1.7"/><circle cx="821.7" cy="95" r="2.5" fill="#fff"/><circle cx="821.7" cy="95" r="0.7" fill="#222"/><circle cx="878.4" cy="100.2" r="3.3" fill="#fff"/><circle cx="934.3" cy="100.2" r="3.3" fill="#fff"/><circle cx="991.3" cy="93.6" r="3.7" fill="#fff"/><circle cx="991.3" cy="93.6" r="1" fill="#222"/><circle cx="1001.9" cy="87" r="3.3" fill="#fff"/><circle cx="1012.7" cy="87" r="3.3" fill="#fff"/><circle cx="1022.8" cy="93.6" r="2.5" fill="#fff"/><circle cx="1022.8" cy="93.6" r="0.7" fill="#222"/><circle cx="1089.6" cy="88.8" r="3.7" fill="#fff"/><circle cx="1089.6" cy="88.8" r="1" fill="#222"/><circle cx="1104.3" cy="76.9" r="6.9" fill="#9C8A00" stroke="#fff" stroke-width="1.7"/><circle cx="1120.7" cy="71.9" r="3.7" fill="#fff"/><circle cx="1120.7" cy="71.9" r="1" fill="#222"/><circle cx="1135.4" cy="67.1" r="6.9" fill="#B57A00" stroke="#fff" stroke-width="1.7"/><circle cx="1150.6" cy="80.7" r="3.7" fill="#fff"/><circle cx="1150.6" cy="80.7" r="1" fill="#222"/><circle cx="1168.8" cy="93.9" r="6.9" fill="#2E9E0E" stroke="#fff" stroke-width="1.7"/><circle cx="1187.4" cy="78.4" r="3.7" fill="#fff"/><circle cx="1187.4" cy="78.4" r="1" fill="#222"/><circle cx="1195.2" cy="62.9" r="3.3" fill="#fff"/><circle cx="1203" cy="62.9" r="3.3" fill="#fff"/><circle cx="1210.7" cy="69.9" r="3.7" fill="#fff"/><circle cx="1210.7" cy="69.9" r="1" fill="#222"/><circle cx="1220.8" cy="76.9" r="3.3" fill="#fff"/><circle cx="1231.7" cy="76.9" r="3.3" fill="#fff"/><circle cx="1243.3" cy="88.8" r="3.7" fill="#fff"/><circle cx="1243.3" cy="88.8" r="1" fill="#222"/><circle cx="1253.4" cy="93.6" r="3.7" fill="#fff"/><circle cx="1253.4" cy="93.6" r="1" fill="#222"/><circle cx="1260.4" cy="87" r="3.3" fill="#fff"/><circle cx="1272.8" cy="73.8" r="3.7" fill="#fff"/><circle cx="1272.8" cy="73.8" r="1" fill="#222"/><circle cx="1297" cy="60.2" r="3.3" fill="#fff"/><circle cx="1313.5" cy="60.2" r="3.3" fill="#fff"/><circle cx="1332.6" cy="60.2" r="2.5" fill="#fff"/><circle cx="1332.6" cy="60.2" r="0.7" fill="#222"/></g>
<g fill="none" stroke="#000"><path d="M398.6 358.2L403.6 338.3" stroke-width="5.2"/><path d="M403.6 338.3L409.3 317.8" stroke-width="3.5"/><path d="M409.3 317.8L414.8 338.3" stroke-width="3.5"/><path d="M414.8 338.3C419.8 348.2 424.7 358.2 429.7 358.2" stroke-width="5.2"/><path d="M429.7 358.2L444.1 358.2" stroke-width="5.2" stroke-dasharray="6 4"/><path d="M444.1 358.2L459 358.2" stroke-width="5.2" stroke-dasharray="6 4"/><path d="M459 358.2L477.6 358.2" stroke-width="5.2" stroke-dasharray="6 4"/><path d="M477.6 358.2L496.3 358.2" stroke-width="5.2" stroke-dasharray="6 4"/><path d="M496.3 358.2L515.4 338.3" stroke-width="5.4" stroke-dasharray="10 3.5"/><path d="M515.4 338.3C530.3 325.9 545.1 319.7 560 319.7" stroke-width="5.6"/><path d="M560 319.7C566.7 319.7 573.3 319.7 580 319.7" stroke-width="5.6"/><path d="M580 319.7C601.8 319.7 623.5 319.7 645.3 319.7" stroke-width="5.6"/><path d="M645.3 319.7C666.8 319.7 688.4 322.2 709.9 327.1" stroke-width="5.6"/><path d="M709.9 327.1L721.6 334.1" stroke-width="5.2"/><path d="M721.6 334.1L737.8 334.1" stroke-width="5.2"/><path d="M737.8 334.1C745.2 334.1 752.6 326.2 760 323" stroke-width="4" stroke-dasharray="3.5 3"/><path d="M760 323C767.9 319.6 775.8 317 783.7 314.7" stroke-width="4" stroke-dasharray="3.5 3"/><path d="M783.7 314.7L803.6 309.8" stroke-width="4" stroke-dasharray="3.5 3"/><path d="M803.6 309.8L823.5 309.8" stroke-width="4" stroke-dasharray="3.5 3"/></g>
<g><circle cx="398.6" cy="358.2" r="3.3" fill="#fff"/><circle cx="403.6" cy="338.3" r="3.7" fill="#fff"/><circle cx="403.6" cy="338.3" r="1" fill="#222"/><circle cx="409.3" cy="317.8" r="3.3" fill="#fff"/><circle cx="414.8" cy="338.3" r="3.7" fill="#fff"/><circle cx="414.8" cy="338.3" r="1" fill="#222"/><circle cx="429.7" cy="358.2" r="3.3" fill="#fff"/><circle cx="444.1" cy="358.2" r="3.3" fill="#fff"/><circle cx="459" cy="358.2" r="3.7" fill="#fff"/><circle cx="459" cy="358.2" r="1" fill="#222"/><circle cx="477.6" cy="358.2" r="3.3" fill="#fff"/><circle cx="496.3" cy="358.2" r="3.3" fill="#fff"/><circle cx="515.4" cy="338.3" r="2.5" fill="#fff"/><circle cx="515.4" cy="338.3" r="0.7" fill="#222"/><circle cx="580" cy="319.7" r="3.3" fill="#fff"/><circle cx="645.3" cy="319.7" r="3.3" fill="#fff"/><circle cx="709.9" cy="327.1" r="3.7" fill="#fff"/><circle cx="709.9" cy="327.1" r="1" fill="#222"/><circle cx="721.6" cy="334.1" r="3.3" fill="#fff"/><circle cx="737.8" cy="334.1" r="3.3" fill="#fff"/><circle cx="760" cy="323" r="2.5" fill="#fff"/><circle cx="760" cy="323" r="0.7" fill="#222"/><circle cx="783.7" cy="314.7" r="2.5" fill="#fff"/><circle cx="783.7" cy="314.7" r="0.7" fill="#222"/><circle cx="803.6" cy="309.8" r="6.9" fill="#4E9E0A" stroke="#fff" stroke-width="1.7"/><circle cx="823.5" cy="309.8" r="2.5" fill="#fff"/><circle cx="823.5" cy="309.8" r="0.7" fill="#222"/></g>
<g fill="none" stroke="#000"><path d="M-3 538.8L8.4 538.8" stroke-width="5.6"/><path d="M8.4 538.8C16.2 538.8 23.9 538.8 31.7 538.8" stroke-width="5.6"/><path d="M31.7 538.8C39.8 538.8 47.8 538.8 55.9 538.8" stroke-width="5.6"/><path d="M55.9 538.8C63.5 538.8 71 528.2 78.6 523.9" stroke-width="5.6"/><path d="M78.6 523.9C89 518 99.5 510.6 109.9 509.9" stroke-width="5.6"/><path d="M109.9 509.9L125.8 509.4" stroke-width="5.2"/><path d="M125.8 509.4L138.8 509.9" stroke-width="5.2"/><path d="M138.8 509.9C150.2 510.8 161.5 520.7 172.9 529.5" stroke-width="5.6"/><path d="M172.9 529.5C180.5 535.3 188 550 195.6 550" stroke-width="5.6"/><path d="M195.6 550C202.4 550 209.3 550 216.1 550" stroke-width="5.6"/><path d="M216.1 550C225.1 550 234.1 541 243.1 541" stroke-width="5.6"/><path d="M243.1 541L260.5 542" stroke-width="5.2"/><path d="M260.5 542C270.9 542 281.2 541.3 291.6 540.7" stroke-width="5.4" stroke-dasharray="10 3.5"/><path d="M291.6 540.7C300 540.2 308.3 538.8 316.7 538.8" stroke-width="5.6"/><path d="M316.7 538.8C324.8 538.8 332.9 538.8 341 538.8" stroke-width="5.6"/><path d="M341 538.8C356.7 538.8 372.3 538.6 388 538.3" stroke-width="5.6"/><path d="M388 538.3C404.7 538 421.4 537.5 438.1 537" stroke-width="5.6"/><path d="M438.1 537C448.4 536.7 458.8 536.3 469.1 536.1" stroke-width="5.6"/><path d="M469.1 536.1C477.9 535.9 486.7 535.7 495.5 535.7" stroke-width="5.6"/><path d="M495.5 535.7C505.4 535.7 515.4 536.2 525.3 536.6" stroke-width="5.4" stroke-dasharray="10 3.5"/><path d="M525.3 536.6L531.3 549.7" stroke-width="5.2"/><path d="M531.3 549.7L547.7 559.9" stroke-width="5.2"/><path d="M547.7 559.9L563.5 559.9" stroke-width="5.2"/><path d="M563.5 559.9L579 572" stroke-width="5.2"/><path d="M579 572C586.3 576.9 593.5 582.5 600.8 583.2" stroke-width="5.2"/><path d="M600.8 583.2L612.5 583.8" stroke-width="5.2"/><path d="M612.5 583.8L625.9 583.2" stroke-width="5.2"/><path d="M625.9 583.2C632.9 582.6 639.8 558.2 646.8 540" stroke-width="5.2"/><path d="M646.8 540L661.3 496.6" stroke-width="5.2"/><path d="M661.3 496.6L678.1 496.6" stroke-width="5.2"/><path d="M678.1 496.6L690.8 527.3" stroke-width="5.2"/><path d="M690.8 527.3L706.1 558.1" stroke-width="5.2"/><path d="M706.1 558.1L724.7 558.1" stroke-width="5.2"/><path d="M724.7 558.1C731.4 558.1 738 533.8 744.7 524.5" stroke-width="5.4" stroke-dasharray="10 3.5"/><path d="M744.7 524.5L757.8 508.7" stroke-width="5.2"/><path d="M757.8 508.7L771.2 508.7" stroke-width="5.2"/><path d="M771.2 508.7L784.8 519.5" stroke-width="5.4" stroke-dasharray="10 3.5"/><path d="M784.8 519.5L804 528.6" stroke-width="5.2"/><path d="M804 528.6L814.6 531" stroke-width="5.2"/><path d="M814.6 531L823 557.5" stroke-width="5.2"/><path d="M823 557.5L837.9 586" stroke-width="5.2"/><path d="M837.9 586L854.3 586" stroke-width="5.2"/><path d="M854.3 586L869.9 572" stroke-width="5.4" stroke-dasharray="10 3.5"/><path d="M869.9 572L885 557.5" stroke-width="5.2"/><path d="M885 557.5L900.9 557.5" stroke-width="5.2"/><path d="M900.9 557.5L916.1 546.9" stroke-width="5.4" stroke-dasharray="10 3.5"/><path d="M916.1 546.9L921.7 542.2" stroke-width="4" stroke-dasharray="3.5 3"/><path d="M921.7 542.2L931 545" stroke-width="5.2"/><path d="M931 545L940.4 545" stroke-width="5.2"/><path d="M940.4 545L951.5 541.7" stroke-width="2" stroke-dasharray="1.5 3"/><path d="M951.5 541.7L957 541.3" stroke-width="5.6"/><path d="M957 541.3C968.5 540.5 980.1 540.2 991.6 539.7" stroke-width="5.6"/><path d="M991.6 539.7C1005 539.1 1018.3 538.6 1031.7 537.9" stroke-width="5.6"/><path d="M1031.7 537.9C1045 537.2 1058.4 536.9 1071.7 535.7" stroke-width="5.6"/><path d="M1071.7 535.7C1080.7 534.9 1089.7 532.5 1098.7 532.5" stroke-width="5.6"/><path d="M1098.7 532.5C1107.7 532.5 1116.7 532.5 1125.7 532.5" stroke-width="5.6"/><path d="M1125.7 532.5C1134.6 532.5 1143.5 529 1152.4 525.5" stroke-width="5.6"/><path d="M1152.4 525.5L1167.3 518.6" stroke-width="5.6"/><path d="M1167.3 518.6L1182 518.6" stroke-width="5.2"/><path d="M1182 518.6L1196.5 528.8" stroke-width="5.2"/><path d="M1196.5 528.8L1198.7 518.6" stroke-width="3.5"/><path d="M1198.7 518.6L1214.6 498.8" stroke-width="5.2"/><path d="M1214.6 498.8L1230.4 515.6" stroke-width="5.2"/><path d="M1230.4 515.6C1237.4 522.3 1244.5 532.5 1251.5 532.5" stroke-width="5.6"/><path d="M1251.5 532.5C1258.3 532.5 1265.2 532.5 1272 532.5" stroke-width="5.6"/><path d="M1272 532.5C1278.9 532.5 1285.9 544.1 1292.8 549.7" stroke-width="5.6"/><path d="M1292.8 549.7C1299.8 555.4 1306.9 566.5 1313.9 566.5" stroke-width="5.6"/><path d="M1313.9 566.5L1325 563.7" stroke-width="5.6"/><path d="M1325 563.7L1335.3 532" stroke-width="5.6"/><path d="M1335.3 532L1347.4 497.5" stroke-width="5.6"/><path d="M1347.4 497.5L1354.9 497.5" stroke-width="5.2"/><path d="M1354.9 497.5L1371.5 493.2" stroke-width="4" stroke-dasharray="3.5 3"/><path d="M1371.5 493.2L1384 488.2" stroke-width="4" stroke-dasharray="3.5 3"/><path d="M1384 488.2L1400 488.2" stroke-width="5.2"/><path d="M1400 488.2L1413.7 513.4" stroke-width="5.6"/><path d="M1413.7 513.4L1413.5 534" stroke-width="5.2"/><path d="M1413.5 534L1418 530.7" stroke-width="5.2"/><path d="M1418 530.7L1434.5 522.3" stroke-width="5.2"/><path d="M1434.5 522.3L1453.2 522.3" stroke-width="5.2"/><path d="M1453.2 522.3L1468.6 540.4" stroke-width="5.6"/><path d="M1468.6 540.4C1475.3 547.2 1481.9 557.1 1488.6 557.1" stroke-width="5.6"/><path d="M1488.6 557.1L1506.3 557.1" stroke-width="5.2"/><path d="M1506.3 557.1L1521.7 531" stroke-width="5.6"/><path d="M1521.7 531L1536.1 505.3" stroke-width="5.2"/><path d="M1536.1 505.3L1551.9 505.3" stroke-width="5.2"/><path d="M1551.9 505.3L1566.4 521.7" stroke-width="5.6"/><path d="M1566.4 521.7C1573.1 528.4 1579.7 538.5 1586.4 538.5" stroke-width="5.6"/><path d="M1586.4 538.5C1596.6 538.5 1606.9 538.5 1617.1 538.5" stroke-width="5.4" stroke-dasharray="10 3.5"/><path d="M1617.1 538.5C1623.9 538.5 1630.8 544 1637.6 546.3" stroke-width="4.8"/><path d="M1637.6 546.3C1646.3 549.2 1655 553.1 1663.7 553.4" stroke-width="4.8"/><path d="M1663.7 553.4C1672.5 553.7 1681.2 553.9 1690 553.9" stroke-width="4.8"/><path d="M1690 553.9C1698.7 553.9 1707.3 550 1716 546" stroke-width="4.8"/><path d="M1716 546L1720.7 553.9" stroke-width="4.8"/><path d="M1720.7 553.9C1730.9 561.5 1741 569.2 1751.2 569.2" stroke-width="4.8"/><path d="M1751.2 569.2C1761.3 569.2 1771.4 569.2 1781.5 569.2" stroke-width="4.8"/><path d="M1781.5 569.2C1792.1 569.2 1802.6 551.2 1813.2 551.2" stroke-width="4.8"/><path d="M1813.2 551.2C1820.8 551.2 1828.4 564.1 1836 564.1" stroke-width="4.8"/><path d="M1836 564.1C1843.7 564.1 1851.3 564.1 1859 564.1" stroke-width="4.8"/><path d="M1859 564.1C1866.9 564.1 1874.8 557.7 1882.7 551.2" stroke-width="4.8"/><path d="M1882.7 551.2L1883.2 540.3" stroke-width="4.8"/><path d="M1883.2 540.3C1895.7 540.5 1908.1 540.7 1920.6 540.7" stroke-width="4.8"/><path d="M1920.6 540.7C1932.9 540.7 1945.2 540.7 1957.5 540.7" stroke-width="4.8"/><path d="M1957.5 540.7C1970.1 540.7 1982.8 539.6 1995.4 539.4" stroke-width="4.8"/><path d="M1995.4 539.4L2003 539.3" stroke-width="4.8"/></g>
<g><circle cx="8.4" cy="538.8" r="2.5" fill="#fff"/><circle cx="8.4" cy="538.8" r="0.7" fill="#222"/><circle cx="31.7" cy="538.8" r="3.3" fill="#fff"/><circle cx="55.9" cy="538.8" r="3.3" fill="#fff"/><circle cx="78.6" cy="523.9" r="3.7" fill="#fff"/><circle cx="78.6" cy="523.9" r="1" fill="#222"/><circle cx="109.9" cy="509.9" r="3.3" fill="#fff"/><circle cx="125.8" cy="509.4" r="6.9" fill="#A67C00" stroke="#fff" stroke-width="1.7"/><circle cx="138.8" cy="509.9" r="3.3" fill="#fff"/><circle cx="172.9" cy="529.5" r="3.7" fill="#fff"/><circle cx="172.9" cy="529.5" r="1" fill="#222"/><circle cx="195.6" cy="550" r="3.3" fill="#fff"/><circle cx="216.1" cy="550" r="3.3" fill="#fff"/><circle cx="243.1" cy="541" r="3.7" fill="#fff"/><circle cx="243.1" cy="541" r="1" fill="#222"/><circle cx="260.5" cy="542" r="3.3" fill="#fff"/><circle cx="291.6" cy="540.7" r="2.5" fill="#fff"/><circle cx="291.6" cy="540.7" r="0.7" fill="#222"/><circle cx="341" cy="538.8" r="3.3" fill="#fff"/><circle cx="388" cy="538.3" r="3.3" fill="#fff"/><circle cx="438.1" cy="537" r="3.7" fill="#fff"/><circle cx="438.1" cy="537" r="1" fill="#222"/><circle cx="469.1" cy="536.1" r="3.3" fill="#fff"/><circle cx="495.5" cy="535.7" r="3.3" fill="#fff"/><circle cx="531.3" cy="549.7" r="3.7" fill="#fff"/><circle cx="531.3" cy="549.7" r="1" fill="#222"/><circle cx="547.7" cy="559.9" r="3.3" fill="#fff"/><circle cx="563.5" cy="559.9" r="3.3" fill="#fff"/><circle cx="579" cy="572" r="3.7" fill="#fff"/><circle cx="579" cy="572" r="1" fill="#222"/><circle cx="600.8" cy="583.2" r="3.3" fill="#fff"/><circle cx="612.5" cy="583.8" r="6.9" fill="#0C8CE8" stroke="#fff" stroke-width="1.7"/><circle cx="625.9" cy="583.2" r="3.3" fill="#fff"/><circle cx="646.8" cy="540" r="3.7" fill="#fff"/><circle cx="646.8" cy="540" r="1" fill="#222"/><circle cx="661.3" cy="496.6" r="3.3" fill="#fff"/><circle cx="678.1" cy="496.6" r="3.3" fill="#fff"/><circle cx="690.8" cy="527.3" r="3.7" fill="#fff"/><circle cx="690.8" cy="527.3" r="1" fill="#222"/><circle cx="706.1" cy="558.1" r="3.3" fill="#fff"/><circle cx="724.7" cy="558.1" r="3.3" fill="#fff"/><circle cx="744.7" cy="524.5" r="3.7" fill="#fff"/><circle cx="744.7" cy="524.5" r="1" fill="#222"/><circle cx="757.8" cy="508.7" r="3.3" fill="#fff"/><circle cx="771.2" cy="508.7" r="3.3" fill="#fff"/><circle cx="784.8" cy="519.5" r="2.5" fill="#fff"/><circle cx="784.8" cy="519.5" r="0.7" fill="#222"/><circle cx="804" cy="528.6" r="6.9" fill="#4E9E0A" stroke="#fff" stroke-width="1.7"/><circle cx="823" cy="557.5" r="3.7" fill="#fff"/><circle cx="823" cy="557.5" r="1" fill="#222"/><circle cx="837.9" cy="586" r="3.3" fill="#fff"/><circle cx="854.3" cy="586" r="3.3" fill="#fff"/><circle cx="869.9" cy="572" r="3.7" fill="#fff"/><circle cx="869.9" cy="572" r="1" fill="#222"/><circle cx="885" cy="557.5" r="3.3" fill="#fff"/><circle cx="900.9" cy="557.5" r="3.3" fill="#fff"/><circle cx="916.1" cy="546.9" r="3.7" fill="#fff"/><circle cx="916.1" cy="546.9" r="1" fill="#222"/><circle cx="921.7" cy="542.2" r="2.5" fill="#fff"/><circle cx="921.7" cy="542.2" r="0.7" fill="#222"/><circle cx="931" cy="545" r="3.3" fill="#fff"/><circle cx="940.4" cy="545" r="3.3" fill="#fff"/><circle cx="951.5" cy="541.7" r="2.5" fill="#fff"/><circle cx="951.5" cy="541.7" r="0.7" fill="#222"/><circle cx="991.6" cy="539.7" r="3.3" fill="#fff"/><circle cx="1031.7" cy="537.9" r="3.3" fill="#fff"/><circle cx="1071.7" cy="535.7" r="3.7" fill="#fff"/><circle cx="1071.7" cy="535.7" r="1" fill="#222"/><circle cx="1098.7" cy="532.5" r="3.3" fill="#fff"/><circle cx="1125.7" cy="532.5" r="3.3" fill="#fff"/><circle cx="1152.4" cy="525.5" r="3.7" fill="#fff"/><circle cx="1152.4" cy="525.5" r="1" fill="#222"/><circle cx="1167.3" cy="518.6" r="3.3" fill="#fff"/><circle cx="1182" cy="518.6" r="3.3" fill="#fff"/><circle cx="1196.5" cy="528.8" r="2.5" fill="#fff"/><circle cx="1196.5" cy="528.8" r="0.7" fill="#222"/><circle cx="1198.7" cy="518.6" r="3.7" fill="#fff"/><circle cx="1198.7" cy="518.6" r="1" fill="#222"/><circle cx="1214.6" cy="498.8" r="6.9" fill="#C87000" stroke="#fff" stroke-width="1.7"/><circle cx="1230.4" cy="515.6" r="3.7" fill="#fff"/><circle cx="1230.4" cy="515.6" r="1" fill="#222"/><circle cx="1251.5" cy="532.5" r="3.3" fill="#fff"/><circle cx="1272" cy="532.5" r="3.3" fill="#fff"/><circle cx="1292.8" cy="549.7" r="3.7" fill="#fff"/><circle cx="1292.8" cy="549.7" r="1" fill="#222"/><circle cx="1313.9" cy="566.5" r="6.9" fill="#0AA5B8" stroke="#fff" stroke-width="1.7"/><circle cx="1335.3" cy="532" r="3.7" fill="#fff"/><circle cx="1335.3" cy="532" r="1" fill="#222"/><circle cx="1347.4" cy="497.5" r="3.3" fill="#fff"/><circle cx="1354.9" cy="497.5" r="3.3" fill="#fff"/><circle cx="1371.5" cy="493.2" r="2.5" fill="#fff"/><circle cx="1371.5" cy="493.2" r="0.7" fill="#222"/><circle cx="1384" cy="488.2" r="3.3" fill="#fff"/><circle cx="1400" cy="488.2" r="3.3" fill="#fff"/><circle cx="1413.7" cy="513.4" r="3.7" fill="#fff"/><circle cx="1413.7" cy="513.4" r="1" fill="#222"/><circle cx="1418" cy="530.7" r="3.7" fill="#fff"/><circle cx="1418" cy="530.7" r="1" fill="#222"/><circle cx="1434.5" cy="522.3" r="3.3" fill="#fff"/><circle cx="1453.2" cy="522.3" r="3.3" fill="#fff"/><circle cx="1468.6" cy="540.4" r="2.5" fill="#fff"/><circle cx="1468.6" cy="540.4" r="0.7" fill="#222"/><circle cx="1488.6" cy="557.1" r="3.3" fill="#fff"/><circle cx="1506.3" cy="557.1" r="3.3" fill="#fff"/><circle cx="1521.7" cy="531" r="3.7" fill="#fff"/><circle cx="1521.7" cy="531" r="1" fill="#222"/><circle cx="1536.1" cy="505.3" r="3.3" fill="#fff"/><circle cx="1551.9" cy="505.3" r="3.3" fill="#fff"/><circle cx="1566.4" cy="521.7" r="2.5" fill="#fff"/><circle cx="1566.4" cy="521.7" r="0.7" fill="#222"/><circle cx="1586.4" cy="538.5" r="3.3" fill="#fff"/><circle cx="1637.6" cy="546.3" r="3.7" fill="#fff"/><circle cx="1637.6" cy="546.3" r="1" fill="#222"/><circle cx="1663.7" cy="553.4" r="3.3" fill="#fff"/><circle cx="1690" cy="553.9" r="3.3" fill="#fff"/><circle cx="1716" cy="546" r="3.7" fill="#fff"/><circle cx="1716" cy="546" r="1" fill="#222"/><circle cx="1720.7" cy="553.9" r="3.7" fill="#fff"/><circle cx="1720.7" cy="553.9" r="1" fill="#222"/><circle cx="1751.2" cy="569.2" r="3.3" fill="#fff"/><circle cx="1781.5" cy="569.2" r="3.3" fill="#fff"/><circle cx="1813.2" cy="551.2" r="3.7" fill="#fff"/><circle cx="1813.2" cy="551.2" r="1" fill="#222"/><circle cx="1836" cy="564.1" r="3.3" fill="#fff"/><circle cx="1859" cy="564.1" r="3.3" fill="#fff"/><circle cx="1882.7" cy="551.2" r="3.7" fill="#fff"/><circle cx="1882.7" cy="551.2" r="1" fill="#222"/><circle cx="1883.2" cy="540.3" r="3.7" fill="#fff"/><circle cx="1883.2" cy="540.3" r="1" fill="#222"/><circle cx="1920.6" cy="540.7" r="3.3" fill="#fff"/><circle cx="1957.5" cy="540.7" r="3.3" fill="#fff"/><circle cx="1995.4" cy="539.4" r="3.7" fill="#fff"/><circle cx="1995.4" cy="539.4" r="1" fill="#222"/><circle cx="741" cy="547.8" r="2.5" fill="#fff"/><circle cx="741" cy="547.8" r="0.7" fill="#222"/></g>
<g fill="none" stroke="#000"><path d="M-3 763.4C6.7 761.9 16.3 760.4 26 759.4" stroke-width="4.8"/><path d="M26 759.4L35.4 758.5" stroke-width="1.7" stroke-dasharray="1.5 3"/><path d="M35.4 758.5L41 759.4" stroke-width="4.4"/><path d="M41 759.4L44.7 780.9" stroke-width="4.4"/><path d="M44.7 780.9L61.5 802.7" stroke-width="4.4"/><path d="M61.5 802.7L78.6 765.4" stroke-width="4.4"/><path d="M78.6 765.4C89.1 746.3 99.5 728.7 110 728.7" stroke-width="4.4"/><path d="M110 728.7L125.8 728.7" stroke-width="4.4"/><path d="M125.8 728.7L138.8 728.7" stroke-width="4.4"/><path d="M138.8 728.7C150.2 728.7 161.5 735.9 172.9 743" stroke-width="4.8"/><path d="M172.9 743L175.1 757.2" stroke-width="4.4"/><path d="M175.1 757.2C183.5 756.9 191.9 756.6 200.3 756.6" stroke-width="4.4"/><path d="M200.3 756.6L212 757.5" stroke-width="4.4"/><path d="M212 757.5L225.8 771" stroke-width="4.4"/><path d="M225.8 771C235.6 779.1 245.5 785.5 255.3 785.5" stroke-width="4.4"/><path d="M255.3 785.5C264.9 785.5 274.5 784.2 284.1 783.7" stroke-width="4.4"/><path d="M284.1 783.7C290.9 783.3 297.8 783.4 304.6 782.7" stroke-width="3.4" stroke-dasharray="3.5 3"/><path d="M304.6 782.7L318 763.2" stroke-width="4.4"/><path d="M318 763.2L337.2 744.5" stroke-width="4.4"/><path d="M337.2 744.5L353 744.5" stroke-width="4.4" stroke-dasharray="6 4"/><path d="M353 744.5C359.8 744.5 366.7 748.4 373.5 751" stroke-width="4.4" stroke-dasharray="6 4"/><path d="M373.5 751L388.4 757.2" stroke-width="4.4" stroke-dasharray="6 4"/><path d="M388.4 757.2C397.1 757.2 405.8 757.2 414.5 757.2" stroke-width="4.4" stroke-dasharray="6 4"/><path d="M414.5 757.2L429 751.6" stroke-width="4.4" stroke-dasharray="6 4"/><path d="M429 751.6L440.6 746" stroke-width="4.4" stroke-dasharray="6 4"/><path d="M440.6 746C450.4 746 460.1 746.2 469.9 746.4" stroke-width="4.4" stroke-dasharray="6 4"/><path d="M469.9 746.4C484.5 746.8 499.1 747.8 513.7 748.3" stroke-width="4.4" stroke-dasharray="6 4"/><path d="M513.7 748.3C523.5 748.6 533.2 748.6 543 749.2" stroke-width="4.4" stroke-dasharray="6 4"/><path d="M543 749.2L554.3 762.2" stroke-width="4.4"/><path d="M554.3 762.2L561.7 776.2" stroke-width="4.4"/><path d="M561.7 776.2L568.2 777.1" stroke-width="3.4" stroke-dasharray="3.5 3"/><path d="M568.2 777.1L576.6 774.3" stroke-width="3.4" stroke-dasharray="3.5 3"/><path d="M576.6 774.3L584 761.3" stroke-width="3.4" stroke-dasharray="3.5 3"/><path d="M584 761.3L595.3 761.3" stroke-width="3.4" stroke-dasharray="3.5 3"/><path d="M595.3 761.3L608.3 766.9" stroke-width="4.4" stroke-dasharray="6 4"/><path d="M608.3 766.9L623.2 766.9" stroke-width="4.4" stroke-dasharray="6 4"/><path d="M623.2 766.9L638.1 760.4" stroke-width="4.4" stroke-dasharray="6 4"/><path d="M638.1 760.4L645.6 757.6" stroke-width="4.4" stroke-dasharray="6 4"/><path d="M645.6 757.6C655.2 757.6 664.9 757.6 674.5 757.6" stroke-width="4.4" stroke-dasharray="6 4"/><path d="M674.5 757.6C686.9 757.6 699.3 757.6 711.7 757.6" stroke-width="4.4" stroke-dasharray="6 4"/><path d="M711.7 757.6L726.2 750.5" stroke-width="4.4" stroke-dasharray="6 4"/><path d="M726.2 750.5C733.9 747.1 741.6 745 749.3 742.3" stroke-width="4.4" stroke-dasharray="6 4"/><path d="M749.3 742.3C756.9 739.6 764.6 737.3 772.2 734.3" stroke-width="4.4" stroke-dasharray="6 4"/><path d="M772.2 734.3L790.9 726.3" stroke-width="4.4"/><path d="M790.9 726.3L808.6 726.3" stroke-width="4.6" stroke-dasharray="10 3.5"/><path d="M808.6 726.3L828.1 720.7" stroke-width="4.6" stroke-dasharray="10 3.5"/><path d="M828.1 720.7L842.1 715.6" stroke-width="4.4"/><path d="M842.1 715.6L857.9 715.6" stroke-width="4.4"/><path d="M857.9 715.6C863.2 715.6 868.5 729.1 873.8 736.1" stroke-width="4.8"/><path d="M873.8 736.1C879.1 743 884.3 757.2 889.6 757.2" stroke-width="4.8"/><path d="M889.6 757.2C896.7 757.2 903.9 757.2 911 757.2" stroke-width="4.6" stroke-dasharray="10 3.5"/><path d="M911 757.2C916.9 757.2 922.8 751.3 928.7 746.8" stroke-width="4.8"/><path d="M928.7 746.8L940.9 736.1" stroke-width="4.4"/><path d="M940.9 736.1L951.1 736.1" stroke-width="3.4" stroke-dasharray="3.5 3"/><path d="M951.1 736.1C954.8 736.1 958.6 744.5 962.3 746.8" stroke-width="4.6" stroke-dasharray="10 3.5"/><path d="M962.3 746.8C973.8 753.7 985.2 757.2 996.7 757.2" stroke-width="4.8"/><path d="M996.7 757.2L1003.3 757.2" stroke-width="4.8"/><path d="M1003.3 757.2C1016.9 757.2 1030.6 757.2 1044.2 757.2" stroke-width="5.3"/><path d="M1044.2 757.2C1057.9 757.2 1071.5 757.2 1085.2 757.2" stroke-width="5.3"/><path d="M1085.2 757.2C1093 757.2 1100.7 757.2 1108.5 757.2" stroke-width="5.3"/><path d="M1108.5 757.2C1122.5 757.2 1136.4 757.2 1150.4 757.2" stroke-width="5.1" stroke-dasharray="10 3.5"/><path d="M1150.4 757.2C1157.9 757.2 1165.3 757.4 1172.8 757.6" stroke-width="1.9" stroke-dasharray="1.5 3"/><path d="M1172.8 757.6L1176.5 777.5" stroke-width="4.9"/><path d="M1176.5 777.5C1183 787.4 1189.6 797.3 1196.1 797.3" stroke-width="4.9"/><path d="M1196.1 797.3L1215.6 797.3" stroke-width="4.9"/><path d="M1215.6 797.3C1222.1 797.3 1228.7 782.5 1235.2 774.3" stroke-width="5.1" stroke-dasharray="10 3.5"/><path d="M1235.2 774.3L1252.9 751" stroke-width="4.9"/><path d="M1252.9 751C1261.3 751 1269.6 751 1278 751" stroke-width="5.1" stroke-dasharray="10 3.5"/><path d="M1278 751C1284.7 751 1291.5 745.8 1298.2 740.8" stroke-width="4.9"/><path d="M1298.2 740.8L1309.7 730.6" stroke-width="4.9"/><path d="M1309.7 730.6L1322.8 730.6" stroke-width="3.8" stroke-dasharray="3.5 3"/><path d="M1322.8 730.6L1335.8 741.7" stroke-width="4.9"/><path d="M1335.8 741.7L1349.8 754.8" stroke-width="4.9"/><path d="M1349.8 754.8C1358.5 754.8 1367.2 754.6 1375.9 754.3" stroke-width="3.8" stroke-dasharray="3.5 3"/><path d="M1375.9 754.3C1383.9 754.1 1392 753.6 1400 753.3" stroke-width="5.3"/><path d="M1400 753.3C1407.8 753 1415.6 753 1423.4 752.5" stroke-width="5.3"/><path d="M1423.4 752.5C1432 751.9 1440.5 750.6 1449.1 749.2" stroke-width="5.1" stroke-dasharray="10 3.5"/><path d="M1449.1 749.2C1456.7 748 1464.2 744.9 1471.8 744.9" stroke-width="4.9"/><path d="M1471.8 744.9C1480.5 744.9 1489.2 752.1 1497.9 755.7" stroke-width="5.1" stroke-dasharray="10 3.5"/><path d="M1497.9 755.7L1510.5 760.9" stroke-width="1.9" stroke-dasharray="1.5 3"/><path d="M1510.5 760.9C1517.7 762.8 1524.8 763.7 1532 763.7" stroke-width="4.9"/><path d="M1532 763.7C1539.3 763.7 1546.5 762.6 1553.8 760.4" stroke-width="3.8" stroke-dasharray="3.5 3"/><path d="M1553.8 760.4L1561 757.2" stroke-width="4.9" stroke-dasharray="6 4"/><path d="M1561 757.2C1568.5 757.2 1576.1 757.2 1583.6 757.2" stroke-width="5.4" stroke-dasharray="6 4"/><path d="M1583.6 757.2L1598.5 770.6" stroke-width="5.4"/><path d="M1598.5 770.6L1605.6 782.7" stroke-width="4.2" stroke-dasharray="3.5 3"/><path d="M1605.6 782.7L1612.5 782.7" stroke-width="4.2" stroke-dasharray="3.5 3"/><path d="M1612.5 782.7L1619 770.2" stroke-width="4.2" stroke-dasharray="3.5 3"/><path d="M1619 770.2L1624.6 759.4" stroke-width="4.2" stroke-dasharray="3.5 3"/><path d="M1624.6 759.4L1629.2 757.6" stroke-width="2.1" stroke-dasharray="1.5 3"/><path d="M1629.2 757.6L1640.4 759.4" stroke-width="2.1" stroke-dasharray="1.5 3"/><path d="M1640.4 759.4L1649.7 760.7" stroke-width="4.2" stroke-dasharray="3.5 3"/><path d="M1649.7 760.7L1659 760.7" stroke-width="4.2" stroke-dasharray="3.5 3"/><path d="M1659 760.7L1667.4 749.4" stroke-width="5.4" stroke-dasharray="6 4"/><path d="M1667.4 749.4L1678.5 738.3" stroke-width="5.4" stroke-dasharray="6 4"/><path d="M1678.5 738.3L1688.2 738.3" stroke-width="4.2" stroke-dasharray="3.5 3"/><path d="M1688.2 738.3L1698.7 727.8" stroke-width="5.4" stroke-dasharray="6 4"/><path d="M1698.7 727.8L1713.3 717.7" stroke-width="5.4"/><path d="M1713.3 717.7L1728.3 731.3" stroke-width="5.4"/><path d="M1728.3 731.3L1742.7 745" stroke-width="5.8"/><path d="M1742.7 745L1757.7 745" stroke-width="5.4"/><path d="M1757.7 745L1772.7 751.5" stroke-width="5.4" stroke-dasharray="6 4"/><path d="M1772.7 751.5C1781.5 754.7 1790.2 753.6 1799 757.7" stroke-width="4.2" stroke-dasharray="3.5 3"/><path d="M1799 757.7L1807.5 771.3" stroke-width="5.4"/><path d="M1807.5 771.3C1815 780.7 1822.4 784.3 1829.9 785.4" stroke-width="5.8"/><path d="M1829.9 785.4C1837.4 786.5 1844.8 786.5 1852.3 787.1" stroke-width="5.4"/><path d="M1852.3 787.1L1868.1 788.5" stroke-width="5.4"/><path d="M1868.1 788.5L1884.5 772.3" stroke-width="5.4"/><path d="M1884.5 772.3C1891.8 766 1899.2 757.4 1906.5 757.4" stroke-width="5.8"/><path d="M1906.5 757.4L1915 757.4" stroke-width="5.8"/><path d="M1915 757.4C1923.9 757.4 1932.8 757.4 1941.7 757.4" stroke-width="5.8"/><path d="M1941.7 757.4C1948.7 757.4 1955.8 765.9 1962.8 782.9" stroke-width="5.8"/><path d="M1962.8 782.9L1969.9 806.1" stroke-width="5.4"/><path d="M1969.9 806.1L1980.4 808.8" stroke-width="4.2" stroke-dasharray="3.5 3"/><path d="M1980.4 808.8L1989.8 804.4" stroke-width="4.2" stroke-dasharray="3.5 3"/><path d="M1989.8 804.4L2003 800" stroke-width="5.8"/></g>
<g><circle cx="26" cy="759.4" r="2.5" fill="#fff"/><circle cx="26" cy="759.4" r="0.7" fill="#222"/><circle cx="35.4" cy="758.5" r="2.5" fill="#fff"/><circle cx="35.4" cy="758.5" r="0.7" fill="#222"/><circle cx="44.7" cy="780.9" r="3.7" fill="#fff"/><circle cx="44.7" cy="780.9" r="1" fill="#222"/><circle cx="61.5" cy="802.7" r="6.9" fill="#0C8CE8" stroke="#fff" stroke-width="1.7"/><circle cx="78.6" cy="765.4" r="3.7" fill="#fff"/><circle cx="78.6" cy="765.4" r="1" fill="#222"/><circle cx="110" cy="728.7" r="3.3" fill="#fff"/><circle cx="125.8" cy="728.7" r="6.9" fill="#A67C00" stroke="#fff" stroke-width="1.7"/><circle cx="138.8" cy="728.7" r="3.3" fill="#fff"/><circle cx="172.9" cy="743" r="3.7" fill="#fff"/><circle cx="172.9" cy="743" r="1" fill="#222"/><circle cx="175.1" cy="757.2" r="3.7" fill="#fff"/><circle cx="175.1" cy="757.2" r="1" fill="#222"/><circle cx="200.3" cy="756.6" r="6.9" fill="#10A860" stroke="#fff" stroke-width="1.7"/><circle cx="225.8" cy="771" r="3.7" fill="#fff"/><circle cx="225.8" cy="771" r="1" fill="#222"/><circle cx="255.3" cy="785.5" r="6.9" fill="#0AA5B8" stroke="#fff" stroke-width="1.7"/><circle cx="284.1" cy="783.7" r="2.5" fill="#fff"/><circle cx="284.1" cy="783.7" r="0.7" fill="#222"/><circle cx="304.6" cy="782.7" r="2.5" fill="#fff"/><circle cx="304.6" cy="782.7" r="0.7" fill="#222"/><circle cx="318" cy="763.2" r="3.7" fill="#fff"/><circle cx="318" cy="763.2" r="1" fill="#222"/><circle cx="337.2" cy="744.5" r="3.3" fill="#fff"/><circle cx="353" cy="744.5" r="3.3" fill="#fff"/><circle cx="373.5" cy="751" r="2.5" fill="#fff"/><circle cx="373.5" cy="751" r="0.7" fill="#222"/><circle cx="429" cy="751.6" r="3.7" fill="#fff"/><circle cx="429" cy="751.6" r="1" fill="#222"/><circle cx="469.9" cy="746.4" r="2.5" fill="#fff"/><circle cx="469.9" cy="746.4" r="0.7" fill="#222"/><circle cx="513.7" cy="748.3" r="2.5" fill="#fff"/><circle cx="513.7" cy="748.3" r="0.7" fill="#222"/><circle cx="554.3" cy="762.2" r="3.7" fill="#fff"/><circle cx="554.3" cy="762.2" r="1" fill="#222"/><circle cx="568.2" cy="777.1" r="2.5" fill="#fff"/><circle cx="568.2" cy="777.1" r="0.7" fill="#222"/><circle cx="576.6" cy="774.3" r="2.5" fill="#fff"/><circle cx="576.6" cy="774.3" r="0.7" fill="#222"/><circle cx="595.3" cy="761.3" r="2.5" fill="#fff"/><circle cx="595.3" cy="761.3" r="0.7" fill="#222"/><circle cx="623.2" cy="766.9" r="3.3" fill="#fff"/><circle cx="638.1" cy="760.4" r="2.5" fill="#fff"/><circle cx="638.1" cy="760.4" r="0.7" fill="#222"/><circle cx="674.5" cy="757.6" r="2.5" fill="#fff"/><circle cx="674.5" cy="757.6" r="0.7" fill="#222"/><circle cx="726.2" cy="750.5" r="2.5" fill="#fff"/><circle cx="726.2" cy="750.5" r="0.7" fill="#222"/><circle cx="749.3" cy="742.3" r="6.9" fill="#2E9E0E" stroke="#fff" stroke-width="1.7"/><circle cx="772.2" cy="734.3" r="3.7" fill="#fff"/><circle cx="772.2" cy="734.3" r="1" fill="#222"/><circle cx="790.9" cy="726.3" r="3.3" fill="#fff"/><circle cx="808.6" cy="726.3" r="3.3" fill="#fff"/><circle cx="828.1" cy="720.7" r="2.5" fill="#fff"/><circle cx="828.1" cy="720.7" r="0.7" fill="#222"/><circle cx="842.1" cy="715.6" r="3.3" fill="#fff"/><circle cx="857.9" cy="715.6" r="3.3" fill="#fff"/><circle cx="873.8" cy="736.1" r="2.5" fill="#fff"/><circle cx="873.8" cy="736.1" r="0.7" fill="#222"/><circle cx="889.6" cy="757.2" r="3.3" fill="#fff"/><circle cx="911" cy="757.2" r="3.3" fill="#fff"/><circle cx="928.7" cy="746.8" r="2.5" fill="#fff"/><circle cx="928.7" cy="746.8" r="0.7" fill="#222"/><circle cx="940.9" cy="736.1" r="3.3" fill="#fff"/><circle cx="951.1" cy="736.1" r="3.3" fill="#fff"/><circle cx="962.3" cy="746.8" r="2.5" fill="#fff"/><circle cx="962.3" cy="746.8" r="0.7" fill="#222"/><circle cx="1003.3" cy="757.2" r="3.3" fill="#fff"/><circle cx="1044.2" cy="757.2" r="3.3" fill="#fff"/><circle cx="1085.2" cy="757.2" r="3.7" fill="#fff"/><circle cx="1085.2" cy="757.2" r="1" fill="#222"/><circle cx="1108.5" cy="757.2" r="3.3" fill="#fff"/><circle cx="1150.4" cy="757.2" r="2.5" fill="#fff"/><circle cx="1150.4" cy="757.2" r="0.7" fill="#222"/><circle cx="1172.8" cy="757.6" r="2.5" fill="#fff"/><circle cx="1172.8" cy="757.6" r="0.7" fill="#222"/><circle cx="1176.5" cy="777.5" r="3.7" fill="#fff"/><circle cx="1176.5" cy="777.5" r="1" fill="#222"/><circle cx="1196.1" cy="797.3" r="3.3" fill="#fff"/><circle cx="1215.6" cy="797.3" r="3.3" fill="#fff"/><circle cx="1235.2" cy="774.3" r="2.5" fill="#fff"/><circle cx="1235.2" cy="774.3" r="0.7" fill="#222"/><circle cx="1252.9" cy="751" r="3.3" fill="#fff"/><circle cx="1298.2" cy="740.8" r="3.7" fill="#fff"/><circle cx="1298.2" cy="740.8" r="1" fill="#222"/><circle cx="1309.7" cy="730.6" r="3.3" fill="#fff"/><circle cx="1322.8" cy="730.6" r="3.3" fill="#fff"/><circle cx="1335.8" cy="741.7" r="3.7" fill="#fff"/><circle cx="1335.8" cy="741.7" r="1" fill="#222"/><circle cx="1349.8" cy="754.8" r="3.3" fill="#fff"/><circle cx="1375.9" cy="754.3" r="3.7" fill="#fff"/><circle cx="1375.9" cy="754.3" r="1" fill="#222"/><circle cx="1400" cy="753.3" r="3.3" fill="#fff"/><circle cx="1423.4" cy="752.5" r="3.3" fill="#fff"/><circle cx="1449.1" cy="749.2" r="3.7" fill="#fff"/><circle cx="1449.1" cy="749.2" r="1" fill="#222"/><circle cx="1471.8" cy="744.9" r="6.9" fill="#5A9E0A" stroke="#fff" stroke-width="1.7"/><circle cx="1497.9" cy="755.7" r="2.5" fill="#fff"/><circle cx="1497.9" cy="755.7" r="0.7" fill="#222"/><circle cx="1510.5" cy="760.9" r="3.7" fill="#fff"/><circle cx="1510.5" cy="760.9" r="1" fill="#222"/><circle cx="1532" cy="763.7" r="6.9" fill="#0CA850" stroke="#fff" stroke-width="1.7"/><circle cx="1553.8" cy="760.4" r="2.5" fill="#fff"/><circle cx="1553.8" cy="760.4" r="0.7" fill="#222"/><circle cx="1598.5" cy="770.6" r="3.7" fill="#fff"/><circle cx="1598.5" cy="770.6" r="1" fill="#222"/><circle cx="1605.6" cy="782.7" r="3.3" fill="#fff"/><circle cx="1612.5" cy="782.7" r="3.3" fill="#fff"/><circle cx="1619" cy="770.2" r="3.7" fill="#fff"/><circle cx="1619" cy="770.2" r="1" fill="#222"/><circle cx="1629.2" cy="757.6" r="2.5" fill="#fff"/><circle cx="1629.2" cy="757.6" r="0.7" fill="#222"/><circle cx="1640.4" cy="759.4" r="3.7" fill="#fff"/><circle cx="1640.4" cy="759.4" r="1" fill="#222"/><circle cx="1649.7" cy="760.7" r="3.3" fill="#fff"/><circle cx="1659" cy="760.7" r="3.3" fill="#fff"/><circle cx="1667.4" cy="749.4" r="3.7" fill="#fff"/><circle cx="1667.4" cy="749.4" r="1" fill="#222"/><circle cx="1678.5" cy="738.3" r="3.3" fill="#fff"/><circle cx="1688.2" cy="738.3" r="3.3" fill="#fff"/><circle cx="1698.7" cy="727.8" r="3.7" fill="#fff"/><circle cx="1698.7" cy="727.8" r="1" fill="#222"/><circle cx="1713.3" cy="717.7" r="6.9" fill="#C87000" stroke="#fff" stroke-width="1.7"/><circle cx="1728.3" cy="731.3" r="3.7" fill="#fff"/><circle cx="1728.3" cy="731.3" r="1" fill="#222"/><circle cx="1742.7" cy="745" r="3.3" fill="#fff"/><circle cx="1757.7" cy="745" r="3.3" fill="#fff"/><circle cx="1772.7" cy="751.5" r="2.5" fill="#fff"/><circle cx="1772.7" cy="751.5" r="0.7" fill="#222"/><circle cx="1807.5" cy="771.3" r="3.7" fill="#fff"/><circle cx="1807.5" cy="771.3" r="1" fill="#222"/><circle cx="1829.9" cy="785.4" r="6.9" fill="#0AA5B8" stroke="#fff" stroke-width="1.7"/><circle cx="1852.3" cy="787.1" r="3.7" fill="#fff"/><circle cx="1852.3" cy="787.1" r="1" fill="#222"/><circle cx="1868.1" cy="788.5" r="6.9" fill="#089CC0" stroke="#fff" stroke-width="1.7"/><circle cx="1884.5" cy="772.3" r="2.5" fill="#fff"/><circle cx="1884.5" cy="772.3" r="0.7" fill="#222"/><circle cx="1915" cy="757.4" r="3.3" fill="#fff"/><circle cx="1941.7" cy="757.4" r="3.3" fill="#fff"/><circle cx="1962.8" cy="782.9" r="3.7" fill="#fff"/><circle cx="1962.8" cy="782.9" r="1" fill="#222"/><circle cx="1969.9" cy="806.1" r="3.3" fill="#fff"/><circle cx="1980.4" cy="808.8" r="3.3" fill="#fff"/><circle cx="1989.8" cy="804.4" r="3.7" fill="#fff"/><circle cx="1989.8" cy="804.4" r="1" fill="#222"/></g>
<g fill="none" stroke="#000"><path d="M1696.6 1429.6C1704.1 1429.6 1711.5 1429.6 1719 1429.6" stroke-width="4.6" stroke-dasharray="10 3.5"/><path d="M1719 1429.6C1726.4 1429.6 1733.9 1429.6 1741.3 1429.6" stroke-width="4.6" stroke-dasharray="10 3.5"/><path d="M1741.3 1429.6C1747.9 1429.6 1754.6 1422.1 1761.2 1422.1" stroke-width="4.6" stroke-dasharray="10 3.5"/><path d="M1761.2 1422.1C1767.3 1422.1 1773.3 1429.6 1779.4 1429.6" stroke-width="4.6" stroke-dasharray="10 3.5"/><path d="M1779.4 1429.6C1786.8 1429.6 1794.3 1429.6 1801.7 1429.6" stroke-width="4.6" stroke-dasharray="10 3.5"/><path d="M1801.7 1429.6C1808.6 1429.6 1815.5 1429.6 1822.4 1429.6" stroke-width="4.6" stroke-dasharray="10 3.5"/><path d="M1822.4 1429.6C1829.9 1429.6 1837.5 1429.6 1845 1429.6" stroke-width="4.6" stroke-dasharray="10 3.5"/><path d="M1845 1429.6L1862.2 1429.6" stroke-width="4.6" stroke-dasharray="10 3.5"/><path d="M1862.2 1429.6C1868 1429.6 1873.8 1419.7 1879.6 1403.4" stroke-width="4.8"/><path d="M1879.6 1403.4C1882.1 1396.5 1884.5 1379.5 1887 1378.5" stroke-width="4.8"/><path d="M1887 1378.5C1890 1377.2 1893.1 1376.6 1896.1 1376.6" stroke-width="4.8"/><path d="M1896.1 1376.6C1899.2 1376.6 1902.2 1377.2 1905.3 1378.5" stroke-width="4.8"/><path d="M1905.3 1378.5C1907.6 1379.5 1909.9 1384.2 1912.2 1395.6" stroke-width="4.8"/><path d="M1912.2 1395.6C1913.5 1401.9 1914.7 1433.3 1916 1436.5" stroke-width="4.6" stroke-dasharray="10 3.5"/><path d="M1916 1436.5C1921.8 1451.2 1927.6 1458.5 1933.4 1458.5" stroke-width="4.8"/><path d="M1933.4 1458.5L1951.6 1458.5" stroke-width="4.8"/><path d="M1951.6 1458.5C1957.1 1458.5 1962.7 1444.2 1968.2 1436.5" stroke-width="4.6" stroke-dasharray="10 3.5"/><path d="M1968.2 1436.5C1973.2 1429.6 1978.1 1414.7 1983.1 1414.7" stroke-width="4.6" stroke-dasharray="10 3.5"/><path d="M1983.1 1414.7L2003 1414.7" stroke-width="4.6" stroke-dasharray="10 3.5"/></g>
<g><circle cx="1696.6" cy="1429.6" r="2.5" fill="#fff"/><circle cx="1696.6" cy="1429.6" r="0.7" fill="#222"/><circle cx="1719" cy="1429.6" r="3.3" fill="#fff"/><circle cx="1741.3" cy="1429.6" r="3.3" fill="#fff"/><circle cx="1761.2" cy="1422.1" r="3.7" fill="#fff"/><circle cx="1761.2" cy="1422.1" r="1" fill="#222"/><circle cx="1801.7" cy="1429.6" r="3.3" fill="#fff"/><circle cx="1822.4" cy="1429.6" r="2.5" fill="#fff"/><circle cx="1822.4" cy="1429.6" r="0.7" fill="#222"/><circle cx="1845" cy="1429.6" r="3.3" fill="#fff"/><circle cx="1862.2" cy="1429.6" r="3.3" fill="#fff"/><circle cx="1879.6" cy="1403.4" r="3.7" fill="#fff"/><circle cx="1879.6" cy="1403.4" r="1" fill="#222"/><circle cx="1887" cy="1378.5" r="3.3" fill="#fff"/><circle cx="1905.3" cy="1378.5" r="3.3" fill="#fff"/><circle cx="1912.2" cy="1395.6" r="2.5" fill="#fff"/><circle cx="1912.2" cy="1395.6" r="0.7" fill="#222"/><circle cx="1916" cy="1436.5" r="3.7" fill="#fff"/><circle cx="1916" cy="1436.5" r="1" fill="#222"/><circle cx="1933.4" cy="1458.5" r="3.3" fill="#fff"/><circle cx="1951.6" cy="1458.5" r="3.3" fill="#fff"/><circle cx="1968.2" cy="1436.5" r="2.5" fill="#fff"/><circle cx="1968.2" cy="1436.5" r="0.7" fill="#222"/></g>
<g fill="none" stroke="#000"><path d="M1654.9 1638.3L1668 1638.3" stroke-width="1.8" stroke-dasharray="1.5 3"/><path d="M1668 1638.3C1672.6 1638.3 1677.3 1632.4 1681.9 1629.3" stroke-width="3.5" stroke-dasharray="3.5 3"/><path d="M1681.9 1629.3C1686.6 1626.2 1691.2 1619.6 1695.9 1619.6" stroke-width="4.6" stroke-dasharray="6 4"/><path d="M1695.9 1619.6L1714.5 1619.6" stroke-width="4.6" stroke-dasharray="6 4"/><path d="M1714.5 1619.6C1720.7 1619.6 1727 1629.5 1733.2 1631.7" stroke-width="4.6" stroke-dasharray="6 4"/><path d="M1733.2 1631.7C1736 1632.7 1738.7 1633.6 1741.5 1633.6" stroke-width="3.5" stroke-dasharray="3.5 3"/><path d="M1741.5 1633.6C1743.4 1633.6 1745.2 1633.3 1747.1 1632.7" stroke-width="3.5" stroke-dasharray="3.5 3"/><path d="M1747.1 1632.7C1749 1632.1 1750.8 1623.1 1752.7 1619.3" stroke-width="4.6"/><path d="M1752.7 1619.3L1765.8 1604.7" stroke-width="4.6"/><path d="M1765.8 1604.7L1777.9 1604.7" stroke-width="4.6"/><path d="M1777.9 1604.7L1790.5 1629.9" stroke-width="4.6"/><path d="M1790.5 1629.9L1797.4 1655" stroke-width="4.6"/><path d="M1797.4 1655L1807.7 1655.4" stroke-width="3.5" stroke-dasharray="3.5 3"/><path d="M1807.7 1655.4L1815.7 1647.2" stroke-width="4.6"/><path d="M1815.7 1647.2L1823.5 1639.2" stroke-width="4.6"/><path d="M1823.5 1639.2L1831.9 1646.6" stroke-width="4.6"/><path d="M1831.9 1646.6L1843.1 1654.1" stroke-width="4.6"/><path d="M1843.1 1654.1L1856.1 1653.2" stroke-width="3.5" stroke-dasharray="3.5 3"/><path d="M1856.1 1653.2L1865.1 1621.9" stroke-width="4.6"/><path d="M1865.1 1621.9L1872 1589.8" stroke-width="4.6"/><path d="M1872 1589.8L1880.7 1634.5" stroke-width="4.6"/><path d="M1880.7 1634.5L1886.9 1598.2" stroke-width="4.6"/><path d="M1886.9 1598.2L1893 1624.3" stroke-width="4.6"/><path d="M1893 1624.3L1899.9 1649.4" stroke-width="4.6"/><path d="M1899.9 1649.4L1909.2 1650.4" stroke-width="3.5" stroke-dasharray="3.5 3"/><path d="M1909.2 1650.4C1912.3 1650.4 1915.5 1648.2 1918.6 1647.6" stroke-width="3.5" stroke-dasharray="3.5 3"/><path d="M1918.6 1647.6C1923.6 1646.6 1928.5 1646.1 1933.5 1646.1" stroke-width="3.5" stroke-dasharray="3.5 3"/><path d="M1933.5 1646.1C1938.9 1646.1 1944.3 1650.1 1949.7 1652.6" stroke-width="3.5" stroke-dasharray="3.5 3"/><path d="M1949.7 1652.6C1954.5 1654.8 1959.4 1660.1 1964.2 1660.1" stroke-width="4.6"/><path d="M1964.2 1660.1L1975.4 1660.1" stroke-width="4.6"/><path d="M1975.4 1660.1C1984.6 1660.1 1993.8 1636 2003 1636" stroke-width="4.6" stroke-dasharray="6 4"/></g>
<g><circle cx="1654.9" cy="1638.3" r="2.5" fill="#fff"/><circle cx="1654.9" cy="1638.3" r="0.7" fill="#222"/><circle cx="1668" cy="1638.3" r="2.5" fill="#fff"/><circle cx="1668" cy="1638.3" r="0.7" fill="#222"/><circle cx="1681.9" cy="1629.3" r="2.5" fill="#fff"/><circle cx="1681.9" cy="1629.3" r="0.7" fill="#222"/><circle cx="1733.2" cy="1631.7" r="2.5" fill="#fff"/><circle cx="1733.2" cy="1631.7" r="0.7" fill="#222"/><circle cx="1741.5" cy="1633.6" r="2.5" fill="#fff"/><circle cx="1741.5" cy="1633.6" r="0.7" fill="#222"/><circle cx="1752.7" cy="1619.3" r="3.7" fill="#fff"/><circle cx="1752.7" cy="1619.3" r="1" fill="#222"/><circle cx="1765.8" cy="1604.7" r="3.3" fill="#fff"/><circle cx="1777.9" cy="1604.7" r="3.3" fill="#fff"/><circle cx="1790.5" cy="1629.9" r="3.7" fill="#fff"/><circle cx="1790.5" cy="1629.9" r="1" fill="#222"/><circle cx="1797.4" cy="1655" r="3.3" fill="#fff"/><circle cx="1807.7" cy="1655.4" r="3.3" fill="#fff"/><circle cx="1815.7" cy="1647.2" r="3.7" fill="#fff"/><circle cx="1815.7" cy="1647.2" r="1" fill="#222"/><circle cx="1823.5" cy="1639.2" r="3.3" fill="#fff"/><circle cx="1831.9" cy="1646.6" r="3.7" fill="#fff"/><circle cx="1831.9" cy="1646.6" r="1" fill="#222"/><circle cx="1843.1" cy="1654.1" r="3.3" fill="#fff"/><circle cx="1856.1" cy="1653.2" r="3.3" fill="#fff"/><circle cx="1865.1" cy="1621.9" r="3.7" fill="#fff"/><circle cx="1865.1" cy="1621.9" r="1" fill="#222"/><circle cx="1872" cy="1589.8" r="3.3" fill="#fff"/><circle cx="1880.7" cy="1634.5" r="3.3" fill="#fff"/><circle cx="1886.9" cy="1598.2" r="3.3" fill="#fff"/><circle cx="1893" cy="1624.3" r="3.7" fill="#fff"/><circle cx="1893" cy="1624.3" r="1" fill="#222"/><circle cx="1899.9" cy="1649.4" r="3.3" fill="#fff"/><circle cx="1909.2" cy="1650.4" r="2.5" fill="#fff"/><circle cx="1909.2" cy="1650.4" r="0.7" fill="#222"/><circle cx="1918.6" cy="1647.6" r="3.7" fill="#fff"/><circle cx="1918.6" cy="1647.6" r="1" fill="#222"/><circle cx="1933.5" cy="1646.1" r="3.3" fill="#fff"/><circle cx="1949.7" cy="1652.6" r="3.7" fill="#fff"/><circle cx="1949.7" cy="1652.6" r="1" fill="#222"/><circle cx="1964.2" cy="1660.1" r="3.3" fill="#fff"/><circle cx="1975.4" cy="1660.1" r="3.3" fill="#fff"/></g>
<g fill="none" stroke="#000"><path d="M1654.9 1854.9L1663.7 1854.9" stroke-width="3.5" stroke-dasharray="3.5 3"/><path d="M1663.7 1854.9L1678.8 1854.9" stroke-width="1.8" stroke-dasharray="1.5 3"/><path d="M1678.8 1854.9L1688.1 1854.9" stroke-width="3.5" stroke-dasharray="3.5 3"/><path d="M1688.1 1854.9L1701.5 1854.9" stroke-width="1.8" stroke-dasharray="1.5 3"/><path d="M1701.5 1854.9L1710.8 1854.9" stroke-width="3.5" stroke-dasharray="3.5 3"/><path d="M1710.8 1854.9C1718.3 1854.9 1725.7 1854.9 1733.2 1854.9" stroke-width="1.8" stroke-dasharray="1.5 3"/><path d="M1733.2 1854.9L1739.3 1840.9" stroke-width="3.5" stroke-dasharray="3.5 3"/><path d="M1739.3 1840.9L1746.2 1829.4" stroke-width="4.6"/><path d="M1746.2 1829.4L1753.7 1829.4" stroke-width="4.6"/><path d="M1753.7 1829.4L1758.9 1840.9" stroke-width="4.6"/><path d="M1758.9 1840.9C1764 1848.8 1769.1 1852.7 1774.2 1852.7" stroke-width="4.6"/><path d="M1774.2 1852.7C1781 1852.7 1787.9 1852.7 1794.7 1852.7" stroke-width="4.8" stroke-dasharray="10 3.5"/><path d="M1794.7 1852.7C1799.7 1852.7 1804.6 1848.3 1809.6 1843.9" stroke-width="4.6"/><path d="M1809.6 1843.9L1818.9 1834" stroke-width="4.6"/><path d="M1818.9 1834C1824.5 1832.8 1830 1833.2 1835.6 1832.2" stroke-width="3.5" stroke-dasharray="3.5 3"/><path d="M1835.6 1832.2C1840.6 1831.3 1845.5 1828.8 1850.5 1828.8" stroke-width="3.5" stroke-dasharray="3.5 3"/><path d="M1850.5 1828.8C1855.5 1828.8 1860.4 1832.2 1865.4 1834" stroke-width="3.5" stroke-dasharray="3.5 3"/><path d="M1865.4 1834C1870.4 1835.8 1875.4 1836.1 1880.4 1839.6" stroke-width="3.5" stroke-dasharray="3.5 3"/><path d="M1880.4 1839.6C1883.5 1841.8 1886.6 1845.9 1889.7 1848" stroke-width="3.5" stroke-dasharray="3.5 3"/><path d="M1889.7 1848C1893.4 1850.6 1897.2 1852.7 1900.9 1852.7" stroke-width="3.5" stroke-dasharray="3.5 3"/><path d="M1900.9 1852.7C1904 1852.7 1907.1 1851.8 1910.2 1849.9" stroke-width="3.5" stroke-dasharray="3.5 3"/><path d="M1910.2 1849.9C1911.7 1849 1913.3 1843.3 1914.8 1840.6" stroke-width="4.6"/><path d="M1914.8 1840.6L1924.1 1828.4" stroke-width="4.6"/><path d="M1924.1 1828.4L1941.8 1832.2" stroke-width="3.5" stroke-dasharray="3.5 3"/><path d="M1941.8 1832.2L1956.7 1835.9" stroke-width="3.5" stroke-dasharray="3.5 3"/><path d="M1956.7 1835.9L1966.1 1836.8" stroke-width="3.5" stroke-dasharray="3.5 3"/><path d="M1966.1 1836.8L1973.5 1845.2" stroke-width="4.6"/><path d="M1973.5 1845.2L1984.7 1854.5" stroke-width="4.6"/><path d="M1984.7 1854.5L2003 1854.5" stroke-width="3.5" stroke-dasharray="3.5 3"/></g>
<g><circle cx="1654.9" cy="1854.9" r="3.7" fill="#fff"/><circle cx="1654.9" cy="1854.9" r="1" fill="#222"/><circle cx="1663.7" cy="1854.9" r="3.7" fill="#fff"/><circle cx="1663.7" cy="1854.9" r="1" fill="#222"/><circle cx="1678.8" cy="1854.9" r="3.7" fill="#fff"/><circle cx="1678.8" cy="1854.9" r="1" fill="#222"/><circle cx="1688.1" cy="1854.9" r="3.7" fill="#fff"/><circle cx="1688.1" cy="1854.9" r="1" fill="#222"/><circle cx="1701.5" cy="1854.9" r="3.7" fill="#fff"/><circle cx="1701.5" cy="1854.9" r="1" fill="#222"/><circle cx="1710.8" cy="1854.9" r="3.7" fill="#fff"/><circle cx="1710.8" cy="1854.9" r="1" fill="#222"/><circle cx="1739.3" cy="1840.9" r="3.7" fill="#fff"/><circle cx="1739.3" cy="1840.9" r="1" fill="#222"/><circle cx="1746.2" cy="1829.4" r="3.3" fill="#fff"/><circle cx="1753.7" cy="1829.4" r="3.3" fill="#fff"/><circle cx="1758.9" cy="1840.9" r="3.7" fill="#fff"/><circle cx="1758.9" cy="1840.9" r="1" fill="#222"/><circle cx="1809.6" cy="1843.9" r="3.7" fill="#fff"/><circle cx="1809.6" cy="1843.9" r="1" fill="#222"/><circle cx="1818.9" cy="1834" r="3.3" fill="#fff"/><circle cx="1835.6" cy="1832.2" r="3.7" fill="#fff"/><circle cx="1835.6" cy="1832.2" r="1" fill="#222"/><circle cx="1850.5" cy="1828.8" r="3.3" fill="#fff"/><circle cx="1865.4" cy="1834" r="3.7" fill="#fff"/><circle cx="1865.4" cy="1834" r="1" fill="#222"/><circle cx="1880.4" cy="1839.6" r="3.3" fill="#fff"/><circle cx="1889.7" cy="1848" r="2.5" fill="#fff"/><circle cx="1889.7" cy="1848" r="0.7" fill="#222"/><circle cx="1900.9" cy="1852.7" r="2.5" fill="#fff"/><circle cx="1900.9" cy="1852.7" r="0.7" fill="#222"/><circle cx="1914.8" cy="1840.6" r="3.7" fill="#fff"/><circle cx="1914.8" cy="1840.6" r="1" fill="#222"/><circle cx="1924.1" cy="1828.4" r="3.3" fill="#fff"/><circle cx="1941.8" cy="1832.2" r="3.7" fill="#fff"/><circle cx="1941.8" cy="1832.2" r="1" fill="#222"/><circle cx="1956.7" cy="1835.9" r="3.3" fill="#fff"/><circle cx="1973.5" cy="1845.2" r="3.7" fill="#fff"/><circle cx="1973.5" cy="1845.2" r="1" fill="#222"/><circle cx="1984.7" cy="1854.5" r="2.5" fill="#fff"/><circle cx="1984.7" cy="1854.5" r="0.7" fill="#222"/></g>
<text x="124.8" y="131" font-size="30.5" fill="#646464" stroke="#646464" stroke-width="0" textLength="468.8" lengthAdjust="spacingAndGlyphs">2505-tricky-disco-chaotic-good</text>
<text x="850.8" y="319.9" font-size="30.5" fill="#646464" stroke="#646464" stroke-width="0" textLength="247.4" lengthAdjust="spacingAndGlyphs">2508-electronica</text>
<text x="1730.4" y="1018" font-size="30.5" fill="#646464" stroke="#646464" stroke-width="0" textLength="258.1" lengthAdjust="spacingAndGlyphs">2506-bounce-sch</text>
<text x="1988.3" y="1018" font-size="30.5" fill="#646464">edule</text>
<text x="1869.2" y="1177.5" font-size="30.5" fill="#646464" stroke="#646464" stroke-width="0" textLength="129.7" lengthAdjust="spacingAndGlyphs">2401-flip</text>
<text x="1326" y="1440.1" font-size="30.5" fill="#646464" stroke="#646464" stroke-width="0" textLength="343" lengthAdjust="spacingAndGlyphs">2412-playfully-dark-pt2</text>
<text x="1446.8" y="1649" font-size="30.5" fill="#646464" stroke="#646464" stroke-width="0" textLength="179.8" lengthAdjust="spacingAndGlyphs">2401-jan-24</text>
<text x="1406.2" y="1865.8" font-size="30.5" fill="#646464" stroke="#646464" stroke-width="0" textLength="220.7" lengthAdjust="spacingAndGlyphs">2402-dark-hop</text>
<text x="130.4" y="978" font-size="62" fill="#000" stroke="#000" stroke-width="0.9" textLength="659.6" lengthAdjust="spacingAndGlyphs">Each ribbon represents a</text>
<text x="804.1" y="978" font-size="62" fill="#000" stroke="#000" stroke-width="0.9" font-weight="bold" textLength="169.5" lengthAdjust="spacingAndGlyphs">DJ set</text>
<rect x="977" y="970.5" width="7.6" height="7.6" rx="1" fill="#000"/>
<text x="128" y="1119.5" font-size="62" fill="#000" stroke="#000" stroke-width="0.9" textLength="575.4" lengthAdjust="spacingAndGlyphs">Color + vertical offset</text>
<text x="721.1" y="1119.5" font-size="62" fill="#000" stroke="#000" stroke-width="0.9" textLength="24.4" lengthAdjust="spacingAndGlyphs">=</text>
<text x="760.4" y="1119.5" font-size="62" fill="#000" stroke="#000" stroke-width="0.9" font-weight="bold" textLength="158.5" lengthAdjust="spacingAndGlyphs">mood</text>
<text x="128" y="1189.5" font-size="62" fill="#999" stroke="#999" stroke-width="0.9" textLength="962" lengthAdjust="spacingAndGlyphs">(blue/down=sad, orange/up=happy)</text>
<text x="127.8" y="1330.7" font-size="62" fill="#000" stroke="#000" stroke-width="0.9" textLength="338.6" lengthAdjust="spacingAndGlyphs">Line spacing</text>
<text x="481.2" y="1330.7" font-size="62" fill="#000" stroke="#000" stroke-width="0.9" textLength="24.4" lengthAdjust="spacingAndGlyphs">=</text>
<text x="522" y="1330.7" font-size="62" fill="#000" stroke="#000" stroke-width="0.9" font-weight="bold" textLength="178.9" lengthAdjust="spacingAndGlyphs">tempo</text>
<text x="128" y="1401" font-size="62" fill="#999" stroke="#999" stroke-width="0.9" textLength="421" lengthAdjust="spacingAndGlyphs">(tighter=faster)</text>
<text x="127.8" y="1542" font-size="62" fill="#000" stroke="#000" stroke-width="0.9" textLength="639.4" lengthAdjust="spacingAndGlyphs">Line thickness + opacity</text>
<text x="783.8" y="1542" font-size="62" fill="#000" stroke="#000" stroke-width="0.9" textLength="24.2" lengthAdjust="spacingAndGlyphs">=</text>
<text x="819.7" y="1542" font-size="62" fill="#000" stroke="#000" stroke-width="0.9" font-weight="bold" textLength="246.2" lengthAdjust="spacingAndGlyphs">intensity</text>
<rect x="1071.8" y="1534.5" width="7.6" height="7.6" rx="1" fill="#000"/>
<text x="127.8" y="1681.7" font-size="62" fill="#000" stroke="#000" stroke-width="0.9" textLength="614.6" lengthAdjust="spacingAndGlyphs">Dotted curves connect</text>
<text x="753" y="1681.7" font-size="62" fill="#000" stroke="#000" stroke-width="0.9" font-weight="bold" textLength="434.2" lengthAdjust="spacingAndGlyphs">identical tracks</text>
<text x="128.8" y="1751.9" font-size="62" fill="#000" stroke="#000" stroke-width="0.9" textLength="531.4" lengthAdjust="spacingAndGlyphs">in neighboring sets.</text>
</svg></body></html>
